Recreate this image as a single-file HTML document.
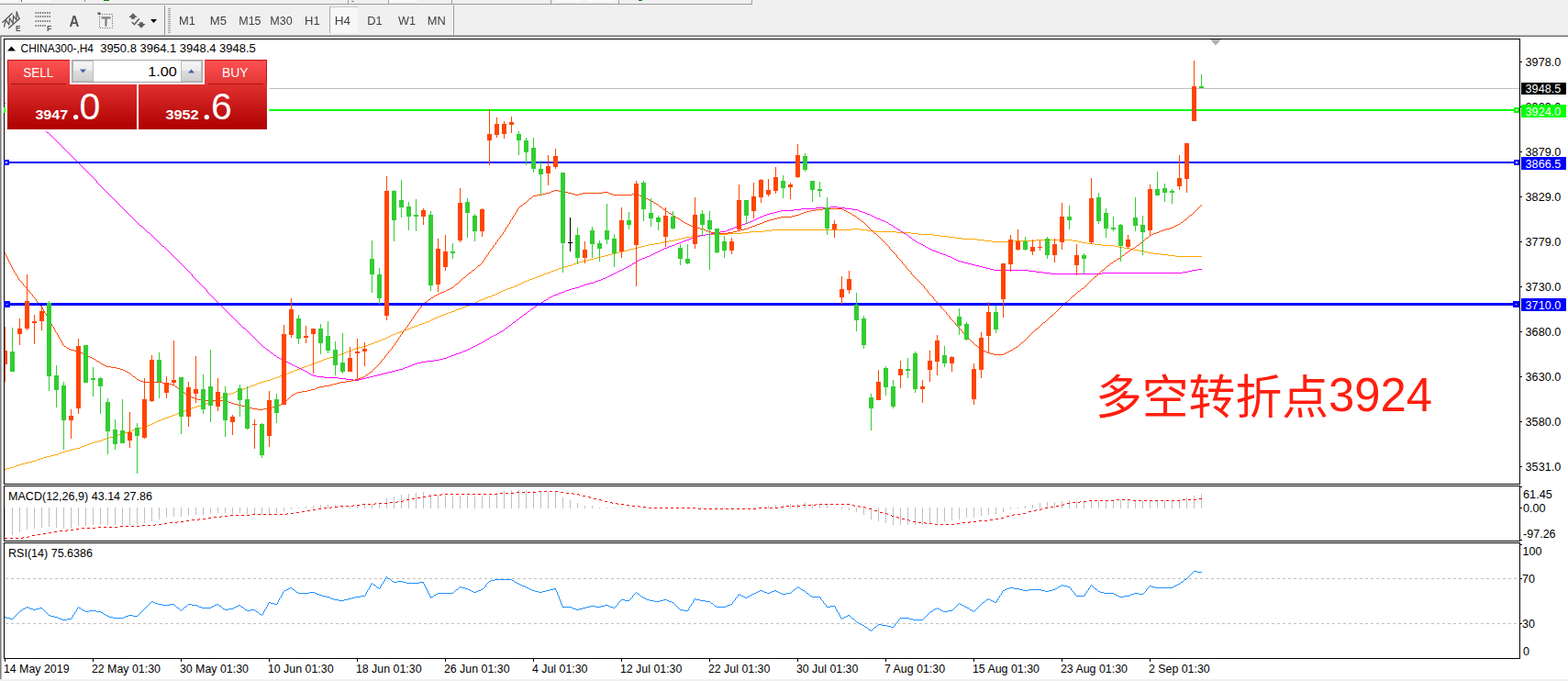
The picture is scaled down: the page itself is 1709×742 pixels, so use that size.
<!DOCTYPE html>
<html><head><meta charset="utf-8"><title>chart</title><style>html,body{margin:0;padding:0;background:#F0F0F0;overflow:hidden}svg text{white-space:pre}</style></head><body>
<svg width="1709" height="742" viewBox="0 0 1709 742" style="display:block;font-family:'Liberation Sans',sans-serif">
<defs>
<linearGradient id="gbtn" x1="0" y1="0" x2="0" y2="1"><stop offset="0" stop-color="#FF5252"/><stop offset="1" stop-color="#E23434"/></linearGradient>
<linearGradient id="gprice" gradientUnits="userSpaceOnUse" x1="0" y1="92" x2="0" y2="141"><stop offset="0" stop-color="#E03030"/><stop offset="1" stop-color="#AE0000"/></linearGradient>
<linearGradient id="gspin" x1="0" y1="0" x2="0" y2="1"><stop offset="0" stop-color="#F6F6F6"/><stop offset="0.48" stop-color="#EBEBEB"/><stop offset="0.5" stop-color="#DDDDDD"/><stop offset="1" stop-color="#CFCFCF"/></linearGradient>
<clipPath id="cmain"><rect x="5" y="43" width="1651" height="484"/></clipPath>
<clipPath id="cmacd"><rect x="5" y="530" width="1651" height="59"/></clipPath>
<pattern id="chk" width="2" height="2" patternUnits="userSpaceOnUse"><rect width="2" height="2" fill="#F0F0F0"/><rect width="1" height="1" fill="#FFFFFF"/><rect x="1" y="1" width="1" height="1" fill="#FFFFFF"/></pattern>
<filter id="idn" x="0" y="0" width="100%" height="100%" filterUnits="userSpaceOnUse" color-interpolation-filters="sRGB"><feOffset dx="0" dy="0"/></filter>
</defs>
<rect width="1709" height="742" fill="#F0F0F0"/>
<g shape-rendering="crispEdges">
<rect x="0" y="0" width="20" height="2" fill="#FAFAFA"/><rect x="22" y="0" width="33" height="2" fill="#FAFAFA"/><rect x="23" y="0" width="1" height="2" fill="#606060"/>
<rect x="113" y="0" width="6" height="1" fill="#008000"/>
<rect x="92" y="0" width="1" height="2" fill="#808080"/>
<rect x="0" y="4" width="820" height="1" fill="#A0A0A0"/><rect x="0" y="5" width="819" height="1" fill="#E8E8E8"/>
<rect x="379" y="0" width="1" height="4" fill="#A0A0A0"/>
<rect x="423" y="0" width="1" height="4" fill="#A0A0A0"/>
<rect x="492" y="0" width="1" height="4" fill="#A0A0A0"/>
<rect x="600" y="0" width="1" height="4" fill="#A0A0A0"/>
<rect x="674" y="0" width="1" height="4" fill="#A0A0A0"/>
<rect x="819" y="0" width="1" height="5" fill="#A0A0A0"/>
<rect x="424" y="0" width="31" height="2" fill="#FAFAFA"/><rect x="605" y="0" width="30" height="2" fill="#FAFAFA"/><rect x="639" y="0" width="31" height="2" fill="#FAFAFA"/>
<rect x="696" y="0" width="4" height="1" fill="#008000"/><rect x="383" y="1" width="3" height="1" fill="#808080"/>
<rect x="179" y="6" width="1" height="32" fill="#909090"/>
<rect x="183" y="9" width="3" height="1" fill="#A0A0A0"/>
<rect x="183" y="11" width="3" height="1" fill="#A0A0A0"/>
<rect x="183" y="13" width="3" height="1" fill="#A0A0A0"/>
<rect x="183" y="15" width="3" height="1" fill="#A0A0A0"/>
<rect x="183" y="17" width="3" height="1" fill="#A0A0A0"/>
<rect x="183" y="19" width="3" height="1" fill="#A0A0A0"/>
<rect x="183" y="21" width="3" height="1" fill="#A0A0A0"/>
<rect x="183" y="23" width="3" height="1" fill="#A0A0A0"/>
<rect x="183" y="25" width="3" height="1" fill="#A0A0A0"/>
<rect x="183" y="27" width="3" height="1" fill="#A0A0A0"/>
<rect x="183" y="29" width="3" height="1" fill="#A0A0A0"/>
<rect x="183" y="31" width="3" height="1" fill="#A0A0A0"/>
<rect x="183" y="33" width="3" height="1" fill="#A0A0A0"/>
<rect x="183" y="35" width="3" height="1" fill="#A0A0A0"/>
<rect x="494" y="6" width="1" height="32" fill="#A0A0A0"/>
<rect x="359" y="7" width="31" height="29" fill="url(#chk)"/><rect x="359" y="7" width="31" height="1" fill="#C8C8C8"/><rect x="359" y="7" width="1" height="29" fill="#A8A8A8"/>
</g>
<g filter="url(#idn)">
<g stroke="#555555" fill="none" stroke-linecap="round"><path d="M2.8 24.4L13.3 14.6M9.6 30.6L21.4 20.2" stroke-width="1.3"/><path d="M4.5 29.2L6.4 21.8L9.8 26.8L10.6 20L14 25.4L14.6 17.4L18 21.6L18 12.4L20.6 19.6" stroke-width="1.25"/></g>
<text x="16.9" y="33.9" font-size="9.5" font-weight="bold" fill="#555555" textLength="5.6" lengthAdjust="spacingAndGlyphs">E</text>
<path d="M38.5 14.0H55" stroke="#555555" stroke-width="1.4" stroke-dasharray="1.4 1.1" fill="none"/>
<path d="M38.5 18.0H55" stroke="#555555" stroke-width="1.4" stroke-dasharray="1.4 1.1" fill="none"/>
<path d="M38.5 23.0H55" stroke="#555555" stroke-width="1.4" stroke-dasharray="1.4 1.1" fill="none"/>
<path d="M38.5 28.0H50" stroke="#555555" stroke-width="1.4" stroke-dasharray="1.4 1.1" fill="none"/>
<text x="51" y="33.9" font-size="9.5" font-weight="bold" fill="#555555" textLength="5.4" lengthAdjust="spacingAndGlyphs">F</text>
<text x="75.6" y="28.8" font-size="16" font-weight="bold" fill="#555555" textLength="10.8" lengthAdjust="spacingAndGlyphs">A</text>
<rect x="108.5" y="15.5" width="14" height="15" fill="none" stroke="#555555" stroke-width="1" stroke-dasharray="1 1.6"/>
<path d="M110.5 19.4H120.5M115.5 19V28.7" stroke="#808080" stroke-width="2.2" fill="none"/>
<rect x="106.5" y="13.5" width="3" height="2.3" fill="#555555"/>
<path d="M145 14.3L149.6 19H147V20.8H143V19H140.4Z" fill="#606060"/><path d="M154 30.7L158.6 26H156V24.3H152V26H149.4Z" fill="#606060"/><path d="M143.6 24L146.5 26.6L151.8 20.2" stroke="#606060" stroke-width="1.5" fill="none"/>
<path d="M164 21H171L167.5 25Z" fill="#000"/>
<text x="195.0" y="27.3" font-size="12.4" fill="#404040" textLength="17.8" lengthAdjust="spacingAndGlyphs">M1</text>
<text x="228.8" y="27.3" font-size="12.4" fill="#404040" textLength="18.2" lengthAdjust="spacingAndGlyphs">M5</text>
<text x="260.3" y="27.3" font-size="12.4" fill="#404040" textLength="24.2" lengthAdjust="spacingAndGlyphs">M15</text>
<text x="294.3" y="27.3" font-size="12.4" fill="#404040" textLength="24.4" lengthAdjust="spacingAndGlyphs">M30</text>
<text x="332.0" y="27.3" font-size="12.4" fill="#404040" textLength="16.6" lengthAdjust="spacingAndGlyphs">H1</text>
<text x="364.8" y="27.3" font-size="12.4" fill="#404040" textLength="17.3" lengthAdjust="spacingAndGlyphs">H4</text>
<text x="400.2" y="27.3" font-size="12.4" fill="#404040" textLength="16.4" lengthAdjust="spacingAndGlyphs">D1</text>
<text x="434.0" y="27.3" font-size="12.4" fill="#404040" textLength="19.0" lengthAdjust="spacingAndGlyphs">W1</text>
<text x="465.8" y="27.3" font-size="12.4" fill="#404040" textLength="20.0" lengthAdjust="spacingAndGlyphs">MN</text>
</g>
<g shape-rendering="crispEdges">
<rect x="0" y="38" width="1709" height="1" fill="#B4B4B4"/>
<rect x="0" y="39" width="1709" height="1" fill="#6E6E6E"/>
<rect x="0" y="40" width="1709" height="700" fill="#FFFFFF"/>
<rect x="0" y="39" width="1" height="701" fill="#808080"/><rect x="1" y="40" width="1" height="700" fill="#B4B4B4"/>
<rect x="4" y="42" width="1653" height="1" fill="#000"/><rect x="4" y="42" width="1" height="676" fill="#000"/><rect x="1656" y="42" width="1" height="676" fill="#000"/>
<rect x="4" y="527" width="1653" height="1" fill="#000"/>
<rect x="4" y="529" width="1653" height="1" fill="#000"/>
<rect x="4" y="589" width="1653" height="1" fill="#000"/>
<rect x="2" y="528" width="1655" height="1" fill="#FFF"/><rect x="2" y="590" width="1655" height="1" fill="#FFF"/>
<rect x="4" y="591" width="1653" height="1" fill="#000"/>
<rect x="4" y="717" width="1653" height="1" fill="#000"/>
</g>
<g clip-path="url(#cmain)" shape-rendering="crispEdges">
<rect x="5" y="96" width="1651" height="1" fill="#C0C0C0"/>
<path d="M929 249h8v1h-8zM841 250h88v1h-88zM937 250h8v1h-8zM833 251h8v1h-8zM945 251h8v1h-8zM817 252h16v1h-16zM953 252h24v1h-24zM809 253h8v1h-8zM977 253h16v1h-16zM793 254h16v1h-16zM993 254h8v1h-8zM769 255h24v1h-24zM1001 255h16v1h-16zM761 256h8v1h-8zM1017 256h8v1h-8zM753 257h8v1h-8zM1025 257h8v1h-8zM747 258h6v1h-6zM1033 258h8v1h-8zM743 259h4v1h-4zM1041 259h8v1h-8zM739 260h4v1h-4zM1049 260h16v1h-16zM735 261h4v1h-4zM1065 261h8v1h-8zM1129 261h40v1h-40zM729 262h6v1h-6zM1073 262h8v1h-8zM1105 262h24v1h-24zM1169 262h6v1h-6zM723 263h6v1h-6zM1081 263h24v1h-24zM1175 263h4v1h-4zM719 264h4v1h-4zM1179 264h6v1h-6zM713 265h6v1h-6zM1185 265h8v1h-8zM707 266h6v1h-6zM1193 266h8v1h-8zM703 267h4v1h-4zM1201 267h14v1h-14zM699 268h4v1h-4zM1215 268h4v1h-4zM695 269h4v1h-4zM1219 269h6v1h-6zM691 270h4v1h-4zM1225 270h6v1h-6zM687 271h4v1h-4zM1231 271h4v1h-4zM683 272h4v1h-4zM1235 272h6v1h-6zM679 273h4v1h-4zM1241 273h6v1h-6zM675 274h4v1h-4zM1247 274h4v1h-4zM671 275h4v1h-4zM1251 275h6v1h-6zM667 276h4v1h-4zM1257 276h8v1h-8zM663 277h4v1h-4zM1265 277h8v1h-8zM659 278h4v1h-4zM1273 278h8v1h-8zM655 279h4v1h-4zM1281 279h29v1h-29zM651 280h4v1h-4zM647 281h4v1h-4zM643 282h4v1h-4zM639 283h4v1h-4zM635 284h4v1h-4zM631 285h4v1h-4zM628 286h3v1h-3zM625 287h3v1h-3zM623 288h2v1h-2zM619 289h4v1h-4zM615 290h4v1h-4zM612 291h3v1h-3zM609 292h3v1h-3zM607 293h2v1h-2zM604 294h3v1h-3zM601 295h3v1h-3zM599 296h2v1h-2zM596 297h3v1h-3zM593 298h3v1h-3zM591 299h2v1h-2zM588 300h3v1h-3zM585 301h3v1h-3zM583 302h2v1h-2zM580 303h3v1h-3zM577 304h3v1h-3zM575 305h2v1h-2zM572 306h3v1h-3zM570 307h2v1h-2zM568 308h2v1h-2zM566 309h2v1h-2zM564 310h2v1h-2zM561 311h3v1h-3zM559 312h2v1h-2zM556 313h3v1h-3zM553 314h3v1h-3zM551 315h2v1h-2zM548 316h3v1h-3zM546 317h2v1h-2zM544 318h2v1h-2zM542 319h2v1h-2zM540 320h2v1h-2zM537 321h3v1h-3zM535 322h2v1h-2zM532 323h3v1h-3zM529 324h3v1h-3zM527 325h2v1h-2zM524 326h3v1h-3zM522 327h2v1h-2zM520 328h2v1h-2zM518 329h2v1h-2zM516 330h2v1h-2zM513 331h3v1h-3zM511 332h2v1h-2zM508 333h3v1h-3zM505 334h3v1h-3zM503 335h2v1h-2zM500 336h3v1h-3zM497 337h3v1h-3zM495 338h2v1h-2zM492 339h3v1h-3zM489 340h3v1h-3zM487 341h2v1h-2zM484 342h3v1h-3zM481 343h3v1h-3zM479 344h2v1h-2zM476 345h3v1h-3zM474 346h2v1h-2zM472 347h2v1h-2zM470 348h2v1h-2zM468 349h2v1h-2zM465 350h3v1h-3zM463 351h2v1h-2zM460 352h3v1h-3zM457 353h3v1h-3zM455 354h2v1h-2zM452 355h3v1h-3zM449 356h3v1h-3zM447 357h2v1h-2zM444 358h3v1h-3zM441 359h3v1h-3zM439 360h2v1h-2zM436 361h3v1h-3zM433 362h3v1h-3zM431 363h2v1h-2zM428 364h3v1h-3zM426 365h2v1h-2zM424 366h2v1h-2zM422 367h2v1h-2zM420 368h2v1h-2zM417 369h3v1h-3zM415 370h2v1h-2zM412 371h3v1h-3zM409 372h3v1h-3zM407 373h2v1h-2zM404 374h3v1h-3zM401 375h3v1h-3zM399 376h2v1h-2zM395 377h4v1h-4zM391 378h4v1h-4zM388 379h3v1h-3zM385 380h3v1h-3zM383 381h2v1h-2zM380 382h3v1h-3zM377 383h3v1h-3zM375 384h2v1h-2zM372 385h3v1h-3zM369 386h3v1h-3zM367 387h2v1h-2zM363 388h4v1h-4zM359 389h4v1h-4zM356 390h3v1h-3zM353 391h3v1h-3zM351 392h2v1h-2zM348 393h3v1h-3zM345 394h3v1h-3zM343 395h2v1h-2zM340 396h3v1h-3zM337 397h3v1h-3zM335 398h2v1h-2zM332 399h3v1h-3zM329 400h3v1h-3zM327 401h2v1h-2zM324 402h3v1h-3zM321 403h3v1h-3zM319 404h2v1h-2zM316 405h3v1h-3zM313 406h3v1h-3zM311 407h2v1h-2zM308 408h3v1h-3zM305 409h3v1h-3zM303 410h2v1h-2zM300 411h3v1h-3zM297 412h3v1h-3zM295 413h2v1h-2zM291 414h4v1h-4zM287 415h4v1h-4zM284 416h3v1h-3zM281 417h3v1h-3zM279 418h2v1h-2zM276 419h3v1h-3zM273 420h3v1h-3zM271 421h2v1h-2zM268 422h3v1h-3zM265 423h3v1h-3zM263 424h2v1h-2zM260 425h3v1h-3zM257 426h3v1h-3zM255 427h2v1h-2zM252 428h3v1h-3zM249 429h3v1h-3zM247 430h2v1h-2zM244 431h3v1h-3zM242 432h2v1h-2zM240 433h2v1h-2zM238 434h2v1h-2zM236 435h2v1h-2zM233 436h3v1h-3zM231 437h2v1h-2zM228 438h3v1h-3zM225 439h3v1h-3zM223 440h2v1h-2zM219 441h4v1h-4zM215 442h4v1h-4zM212 443h3v1h-3zM209 444h3v1h-3zM207 445h2v1h-2zM204 446h3v1h-3zM201 447h3v1h-3zM199 448h2v1h-2zM196 449h3v1h-3zM193 450h3v1h-3zM191 451h2v1h-2zM188 452h3v1h-3zM185 453h3v1h-3zM183 454h2v1h-2zM180 455h3v1h-3zM177 456h3v1h-3zM175 457h2v1h-2zM172 458h3v1h-3zM170 459h2v1h-2zM168 460h2v1h-2zM166 461h2v1h-2zM164 462h2v1h-2zM161 463h3v1h-3zM159 464h2v1h-2zM155 465h4v1h-4zM151 466h4v1h-4zM148 467h3v1h-3zM145 468h3v1h-3zM143 469h2v1h-2zM139 470h4v1h-4zM135 471h4v1h-4zM132 472h3v1h-3zM129 473h3v1h-3zM127 474h2v1h-2zM123 475h4v1h-4zM119 476h4v1h-4zM116 477h3v1h-3zM113 478h3v1h-3zM111 479h2v1h-2zM107 480h4v1h-4zM103 481h4v1h-4zM100 482h3v1h-3zM97 483h3v1h-3zM95 484h2v1h-2zM92 485h3v1h-3zM89 486h3v1h-3zM87 487h2v1h-2zM83 488h4v1h-4zM79 489h4v1h-4zM75 490h4v1h-4zM71 491h4v1h-4zM68 492h3v1h-3zM65 493h3v1h-3zM63 494h2v1h-2zM59 495h4v1h-4zM55 496h4v1h-4zM51 497h4v1h-4zM47 498h4v1h-4zM44 499h3v1h-3zM41 500h3v1h-3zM39 501h2v1h-2zM35 502h4v1h-4zM31 503h4v1h-4zM27 504h4v1h-4zM23 505h4v1h-4zM20 506h3v1h-3zM17 507h3v1h-3zM15 508h2v1h-2zM11 509h4v1h-4zM7 510h4v1h-4zM5 511h2v1h-2z" fill="#FFA500"/>
<path d="M5 112h1v1h-1zM6 113h2v1h-2zM8 114h1v1h-1zM9 115h2v1h-2zM11 116h2v1h-2zM13 117h1v1h-1zM14 118h1v1h-1zM15 119h2v1h-2zM17 120h1v1h-1zM18 121h1v1h-1zM19 122h2v1h-2zM21 123h1v1h-1zM22 124h2v1h-2zM24 125h1v1h-1zM25 126h2v1h-2zM27 127h2v1h-2zM29 128h1v1h-1zM30 129h2v1h-2zM32 130h1v1h-1zM33 131h2v1h-2zM35 132h2v1h-2zM37 133h1v1h-1zM38 134h1v1h-1zM39 135h2v1h-2zM41 136h1v1h-1zM42 137h1v1h-1zM43 138h2v1h-2zM45 139h1v1h-1zM46 140h1v1h-1zM47 141h2v1h-2zM49 142h1v1h-1zM50 143h1v1h-1zM51 144h2v1h-2zM53 145h1v1h-1zM54 146h1v1h-1zM55 147h1v1h-1zM56 148h1v1h-1zM57 149h1v1h-1zM58 150h1v1h-1zM59 151h1v1h-1zM60 152h1v1h-1zM61 153h1v1h-1zM62 154h1v1h-1zM63 155h1v1h-1zM64 156h1v1h-1zM65 157h1v1h-1zM66 158h1v1h-1zM67 159h1v1h-1zM68 160h1v1h-1zM69 161h1v1h-1zM70 162h1v1h-1zM71 163h1v1h-1zM72 164h1v1h-1zM73 165h1v1h-1zM74 166h1v1h-1zM75 167h1v1h-1zM76 168h1v1h-1zM77 169h1v1h-1zM78 170h1v1h-1zM79 171h1v1h-1zM80 172h1v1h-1zM81 173h1v1h-1zM82 174h1v1h-1zM83 175h1v1h-1zM84 176h1v1h-1zM85 177h1v1h-1zM86 178h1v1h-1zM87 179h1v1h-1zM88 180h1v1h-1zM89 181h1v1h-1zM90 182h1v1h-1zM91 183h1v1h-1zM92 184h1v1h-1zM93 185h1v1h-1zM94 186h1v1h-1zM95 187h1v1h-1zM96 188h1v1h-1zM97 189h1v1h-1zM98 190h1v1h-1zM99 191h1v1h-1zM100 192h1v1h-1zM101 193h1v1h-1zM102 194h1v1h-1zM103 195h1v1h-1zM104 196h1v1h-1zM105 197h1v2h-1zM106 199h1v1h-1zM107 200h1v1h-1zM108 201h1v1h-1zM109 202h1v1h-1zM110 203h1v1h-1zM111 204h1v1h-1zM112 205h1v1h-1zM113 206h1v1h-1zM114 207h1v1h-1zM115 208h1v1h-1zM116 209h1v1h-1zM117 210h1v1h-1zM118 211h1v1h-1zM119 212h1v1h-1zM120 213h1v1h-1zM121 214h1v1h-1zM122 215h1v1h-1zM123 216h1v1h-1zM124 217h1v1h-1zM125 218h1v1h-1zM126 219h1v1h-1zM127 220h1v1h-1zM128 221h1v1h-1zM129 222h1v1h-1zM130 223h1v1h-1zM131 224h1v1h-1zM132 225h1v1h-1zM905 225h8v1h-8zM133 226h1v1h-1zM889 226h16v1h-16zM913 226h8v1h-8zM134 227h1v1h-1zM873 227h16v1h-16zM921 227h8v1h-8zM135 228h1v1h-1zM865 228h8v1h-8zM929 228h6v1h-6zM136 229h1v1h-1zM851 229h14v1h-14zM935 229h2v1h-2zM137 230h1v1h-1zM847 230h4v1h-4zM937 230h3v1h-3zM138 231h1v1h-1zM843 231h4v1h-4zM940 231h3v1h-3zM139 232h1v1h-1zM839 232h4v1h-4zM943 232h2v1h-2zM140 233h1v1h-1zM836 233h3v1h-3zM945 233h3v1h-3zM141 234h1v1h-1zM833 234h3v1h-3zM948 234h2v1h-2zM142 235h1v1h-1zM831 235h2v1h-2zM950 235h2v1h-2zM143 236h1v1h-1zM828 236h3v1h-3zM952 236h2v1h-2zM144 237h1v1h-1zM826 237h2v1h-2zM954 237h2v1h-2zM145 238h1v1h-1zM824 238h2v1h-2zM956 238h3v1h-3zM146 239h1v1h-1zM822 239h2v1h-2zM959 239h2v1h-2zM147 240h1v1h-1zM820 240h2v1h-2zM961 240h3v1h-3zM148 241h1v1h-1zM817 241h3v1h-3zM964 241h2v1h-2zM149 242h1v1h-1zM815 242h2v1h-2zM966 242h2v1h-2zM150 243h1v1h-1zM812 243h3v1h-3zM968 243h1v1h-1zM151 244h1v1h-1zM809 244h3v1h-3zM969 244h2v1h-2zM152 245h1v1h-1zM807 245h2v1h-2zM971 245h2v1h-2zM153 246h2v1h-2zM804 246h3v1h-3zM973 246h1v1h-1zM155 247h1v1h-1zM801 247h3v1h-3zM974 247h2v1h-2zM156 248h1v1h-1zM799 248h2v1h-2zM976 248h1v1h-1zM157 249h1v1h-1zM796 249h3v1h-3zM977 249h2v1h-2zM158 250h1v1h-1zM793 250h3v1h-3zM979 250h2v1h-2zM159 251h1v1h-1zM791 251h2v1h-2zM981 251h1v1h-1zM160 252h1v1h-1zM785 252h6v1h-6zM982 252h2v1h-2zM161 253h2v1h-2zM779 253h6v1h-6zM984 253h1v1h-1zM163 254h1v1h-1zM775 254h4v1h-4zM985 254h2v1h-2zM164 255h1v1h-1zM769 255h6v1h-6zM987 255h2v1h-2zM165 256h1v1h-1zM763 256h6v1h-6zM989 256h1v1h-1zM166 257h1v1h-1zM759 257h4v1h-4zM990 257h1v1h-1zM167 258h1v1h-1zM756 258h3v1h-3zM991 258h2v1h-2zM168 259h1v1h-1zM753 259h3v1h-3zM993 259h1v1h-1zM169 260h1v1h-1zM751 260h2v1h-2zM994 260h1v1h-1zM170 261h1v1h-1zM748 261h3v1h-3zM995 261h2v1h-2zM171 262h1v1h-1zM745 262h3v1h-3zM997 262h1v1h-1zM172 263h1v1h-1zM743 263h2v1h-2zM998 263h2v1h-2zM173 264h1v1h-1zM740 264h3v1h-3zM1000 264h2v1h-2zM174 265h1v1h-1zM737 265h3v1h-3zM1002 265h2v1h-2zM175 266h1v1h-1zM735 266h2v1h-2zM1004 266h2v1h-2zM176 267h1v1h-1zM732 267h3v1h-3zM1006 267h2v1h-2zM177 268h2v1h-2zM729 268h3v1h-3zM1008 268h1v1h-1zM179 269h1v1h-1zM727 269h2v1h-2zM1009 269h2v1h-2zM180 270h1v1h-1zM724 270h3v1h-3zM1011 270h2v1h-2zM181 271h1v1h-1zM722 271h2v1h-2zM1013 271h2v1h-2zM182 272h1v1h-1zM720 272h2v1h-2zM1015 272h2v1h-2zM183 273h1v1h-1zM718 273h2v1h-2zM1017 273h3v1h-3zM184 274h1v1h-1zM716 274h2v1h-2zM1020 274h3v1h-3zM185 275h1v1h-1zM714 275h2v1h-2zM1023 275h2v1h-2zM186 276h1v1h-1zM712 276h2v1h-2zM1025 276h3v1h-3zM187 277h1v1h-1zM710 277h2v1h-2zM1028 277h3v1h-3zM188 278h1v1h-1zM708 278h2v1h-2zM1031 278h2v1h-2zM189 279h1v1h-1zM705 279h3v1h-3zM1033 279h3v1h-3zM190 280h1v1h-1zM703 280h2v1h-2zM1036 280h2v1h-2zM191 281h1v1h-1zM700 281h3v1h-3zM1038 281h2v1h-2zM192 282h1v1h-1zM698 282h2v1h-2zM1040 282h2v1h-2zM193 283h1v1h-1zM696 283h2v1h-2zM1042 283h2v1h-2zM194 284h1v1h-1zM694 284h2v1h-2zM1044 284h3v1h-3zM195 285h1v1h-1zM693 285h1v1h-1zM1047 285h4v1h-4zM196 286h1v1h-1zM691 286h2v1h-2zM1051 286h4v1h-4zM197 287h1v1h-1zM689 287h2v1h-2zM1055 287h4v1h-4zM198 288h1v1h-1zM688 288h1v1h-1zM1059 288h4v1h-4zM199 289h1v1h-1zM686 289h2v1h-2zM1063 289h4v1h-4zM200 290h1v1h-1zM684 290h2v1h-2zM1067 290h4v1h-4zM201 291h1v1h-1zM682 291h2v1h-2zM1071 291h4v1h-4zM202 292h1v1h-1zM680 292h2v1h-2zM1075 292h4v1h-4zM203 293h1v1h-1zM678 293h2v1h-2zM1079 293h4v1h-4zM1305 293h5v1h-5zM204 294h1v1h-1zM676 294h2v1h-2zM1083 294h38v1h-38zM1299 294h6v1h-6zM205 295h1v1h-1zM674 295h2v1h-2zM1121 295h8v1h-8zM1295 295h4v1h-4zM206 296h1v1h-1zM672 296h2v1h-2zM1129 296h8v1h-8zM1289 296h6v1h-6zM207 297h1v1h-1zM670 297h2v1h-2zM1137 297h8v1h-8zM1201 297h88v1h-88zM208 298h1v1h-1zM668 298h2v1h-2zM1145 298h56v1h-56zM666 299h2v1h-2zM209 299h1v2h-1zM664 300h2v1h-2zM210 301h1v1h-1zM662 301h2v1h-2zM211 302h1v1h-1zM660 302h2v1h-2zM212 303h1v1h-1zM657 303h3v1h-3zM213 304h1v1h-1zM655 304h2v1h-2zM214 305h1v1h-1zM652 305h3v1h-3zM215 306h1v1h-1zM649 306h3v1h-3zM216 307h1v1h-1zM647 307h2v1h-2zM217 308h1v1h-1zM643 308h4v1h-4zM218 309h1v1h-1zM639 309h4v1h-4zM219 310h1v1h-1zM636 310h3v1h-3zM220 311h1v1h-1zM633 311h3v1h-3zM221 312h1v1h-1zM631 312h2v1h-2zM222 313h1v1h-1zM627 313h4v1h-4zM223 314h1v1h-1zM623 314h4v1h-4zM224 315h1v1h-1zM620 315h3v1h-3zM617 316h3v1h-3zM225 316h1v2h-1zM615 317h2v1h-2zM226 318h1v1h-1zM612 318h3v1h-3zM227 319h1v1h-1zM609 319h3v1h-3zM228 320h1v1h-1zM607 320h2v1h-2zM229 321h1v1h-1zM604 321h3v1h-3zM230 322h1v1h-1zM602 322h2v1h-2zM231 323h1v1h-1zM600 323h2v1h-2zM232 324h1v1h-1zM598 324h2v1h-2zM233 325h1v1h-1zM597 325h1v1h-1zM234 326h1v1h-1zM595 326h2v1h-2zM235 327h1v1h-1zM593 327h2v1h-2zM236 328h1v1h-1zM592 328h1v1h-1zM237 329h1v1h-1zM590 329h2v1h-2zM238 330h1v1h-1zM589 330h1v1h-1zM239 331h1v1h-1zM587 331h2v1h-2zM240 332h1v1h-1zM585 332h2v1h-2zM241 333h1v1h-1zM584 333h1v1h-1zM242 334h1v1h-1zM582 334h2v1h-2zM243 335h1v1h-1zM581 335h1v1h-1zM244 336h1v1h-1zM579 336h2v1h-2zM245 337h1v1h-1zM578 337h1v1h-1zM246 338h1v1h-1zM577 338h1v1h-1zM247 339h1v1h-1zM575 339h2v1h-2zM248 340h1v1h-1zM574 340h1v1h-1zM249 341h1v1h-1zM573 341h1v1h-1zM250 342h1v1h-1zM571 342h2v1h-2zM251 343h1v1h-1zM570 343h1v1h-1zM252 344h1v1h-1zM569 344h1v1h-1zM253 345h1v1h-1zM567 345h2v1h-2zM254 346h1v1h-1zM566 346h1v1h-1zM255 347h1v1h-1zM565 347h1v1h-1zM256 348h1v1h-1zM563 348h2v1h-2zM257 349h1v1h-1zM562 349h1v1h-1zM258 350h1v1h-1zM561 350h1v1h-1zM259 351h1v1h-1zM559 351h2v1h-2zM260 352h1v1h-1zM558 352h1v1h-1zM261 353h1v1h-1zM557 353h1v1h-1zM262 354h1v1h-1zM555 354h2v1h-2zM263 355h1v1h-1zM554 355h1v1h-1zM264 356h1v1h-1zM553 356h1v1h-1zM265 357h2v1h-2zM551 357h2v1h-2zM267 358h1v1h-1zM550 358h1v1h-1zM268 359h1v1h-1zM549 359h1v1h-1zM269 360h1v1h-1zM547 360h2v1h-2zM270 361h1v1h-1zM545 361h2v1h-2zM271 362h1v1h-1zM544 362h1v1h-1zM272 363h1v1h-1zM542 363h2v1h-2zM273 364h1v1h-1zM540 364h2v1h-2zM274 365h1v1h-1zM538 365h2v1h-2zM275 366h1v1h-1zM536 366h2v1h-2zM276 367h1v1h-1zM534 367h2v1h-2zM277 368h1v1h-1zM533 368h1v1h-1zM278 369h1v1h-1zM531 369h2v1h-2zM279 370h1v1h-1zM529 370h2v1h-2zM280 371h1v1h-1zM528 371h1v1h-1zM281 372h1v1h-1zM526 372h2v1h-2zM282 373h1v1h-1zM524 373h2v1h-2zM283 374h1v1h-1zM522 374h2v1h-2zM284 375h1v1h-1zM520 375h2v1h-2zM285 376h1v1h-1zM518 376h2v1h-2zM286 377h1v1h-1zM516 377h2v1h-2zM287 378h2v1h-2zM514 378h2v1h-2zM289 379h1v1h-1zM512 379h2v1h-2zM290 380h1v1h-1zM510 380h2v1h-2zM291 381h2v1h-2zM508 381h2v1h-2zM293 382h1v1h-1zM505 382h3v1h-3zM294 383h1v1h-1zM503 383h2v1h-2zM295 384h2v1h-2zM500 384h3v1h-3zM297 385h1v1h-1zM497 385h3v1h-3zM298 386h1v1h-1zM495 386h2v1h-2zM299 387h2v1h-2zM492 387h3v1h-3zM301 388h1v1h-1zM489 388h3v1h-3zM302 389h2v1h-2zM487 389h2v1h-2zM304 390h2v1h-2zM483 390h4v1h-4zM306 391h2v1h-2zM479 391h4v1h-4zM308 392h2v1h-2zM473 392h6v1h-6zM310 393h2v1h-2zM465 393h8v1h-8zM312 394h2v1h-2zM459 394h6v1h-6zM314 395h2v1h-2zM455 395h4v1h-4zM316 396h2v1h-2zM452 396h3v1h-3zM318 397h2v1h-2zM449 397h3v1h-3zM320 398h2v1h-2zM447 398h2v1h-2zM322 399h2v1h-2zM444 399h3v1h-3zM324 400h2v1h-2zM441 400h3v1h-3zM326 401h2v1h-2zM439 401h2v1h-2zM328 402h2v1h-2zM435 402h4v1h-4zM330 403h2v1h-2zM431 403h4v1h-4zM332 404h2v1h-2zM427 404h4v1h-4zM334 405h2v1h-2zM423 405h4v1h-4zM336 406h1v1h-1zM419 406h4v1h-4zM337 407h2v1h-2zM415 407h4v1h-4zM339 408h2v1h-2zM411 408h4v1h-4zM341 409h4v1h-4zM407 409h4v1h-4zM345 410h8v1h-8zM403 410h4v1h-4zM353 411h16v1h-16zM399 411h4v1h-4zM369 412h8v1h-8zM395 412h4v1h-4zM377 413h8v1h-8zM391 413h4v1h-4zM385 414h6v1h-6z" fill="#FF00FF"/>
<path d="M604 207h5v1h-5zM601 208h3v1h-3zM609 208h6v1h-6zM599 209h2v1h-2zM615 209h4v1h-4zM657 209h6v1h-6zM595 210h4v1h-4zM619 210h4v1h-4zM635 210h22v1h-22zM663 210h2v1h-2zM591 211h4v1h-4zM623 211h4v1h-4zM631 211h4v1h-4zM665 211h3v1h-3zM689 211h6v1h-6zM585 212h6v1h-6zM627 212h4v1h-4zM668 212h21v1h-21zM695 212h2v1h-2zM581 213h4v1h-4zM697 213h3v1h-3zM580 214h1v1h-1zM700 214h2v1h-2zM579 215h1v1h-1zM702 215h2v1h-2zM577 216h2v1h-2zM704 216h2v1h-2zM576 217h1v1h-1zM706 217h2v1h-2zM575 218h1v1h-1zM708 218h2v1h-2zM574 219h1v1h-1zM710 219h2v1h-2zM573 220h1v1h-1zM712 220h1v1h-1zM571 221h2v1h-2zM713 221h2v1h-2zM570 222h1v1h-1zM715 222h2v1h-2zM569 223h1v1h-1zM717 223h1v1h-1zM1309 223h1v1h-1zM567 224h2v1h-2zM718 224h1v1h-1zM1308 224h1v1h-1zM566 225h1v1h-1zM719 225h2v1h-2zM1307 225h1v1h-1zM565 226h1v1h-1zM721 226h1v1h-1zM1306 226h1v1h-1zM722 227h1v1h-1zM897 227h21v1h-21zM1305 227h1v1h-1zM564 227h1v2h-1zM723 228h2v1h-2zM889 228h8v1h-8zM918 228h2v1h-2zM1304 228h1v1h-1zM725 229h1v1h-1zM883 229h6v1h-6zM920 229h2v1h-2zM1303 229h1v1h-1zM563 229h1v2h-1zM726 230h2v1h-2zM879 230h4v1h-4zM922 230h2v1h-2zM1302 230h1v1h-1zM562 231h1v1h-1zM728 231h1v1h-1zM876 231h3v1h-3zM924 231h2v1h-2zM1301 231h1v1h-1zM729 232h2v1h-2zM873 232h3v1h-3zM926 232h2v1h-2zM1300 232h1v1h-1zM561 232h1v2h-1zM731 233h2v1h-2zM871 233h2v1h-2zM928 233h1v1h-1zM1299 233h1v1h-1zM560 234h1v1h-1zM733 234h1v1h-1zM867 234h4v1h-4zM929 234h2v1h-2zM1297 234h2v1h-2zM734 235h2v1h-2zM863 235h4v1h-4zM931 235h2v1h-2zM1296 235h1v1h-1zM559 235h1v2h-1zM736 236h1v1h-1zM851 236h12v1h-12zM933 236h1v1h-1zM1295 236h1v1h-1zM737 237h2v1h-2zM847 237h4v1h-4zM934 237h1v1h-1zM1294 237h1v1h-1zM558 237h1v2h-1zM739 238h2v1h-2zM843 238h4v1h-4zM935 238h2v1h-2zM1293 238h1v1h-1zM557 239h1v1h-1zM741 239h1v1h-1zM839 239h4v1h-4zM937 239h1v1h-1zM1291 239h2v1h-2zM742 240h2v1h-2zM836 240h3v1h-3zM938 240h1v1h-1zM1290 240h1v1h-1zM556 240h1v2h-1zM744 241h1v1h-1zM833 241h3v1h-3zM939 241h2v1h-2zM1289 241h1v1h-1zM745 242h2v1h-2zM831 242h2v1h-2zM941 242h1v1h-1zM1287 242h2v1h-2zM555 242h1v2h-1zM747 243h2v1h-2zM828 243h3v1h-3zM942 243h1v1h-1zM1286 243h1v1h-1zM554 244h1v1h-1zM749 244h2v1h-2zM825 244h3v1h-3zM943 244h1v1h-1zM1284 244h2v1h-2zM751 245h2v1h-2zM823 245h2v1h-2zM944 245h1v1h-1zM1282 245h2v1h-2zM553 245h1v2h-1zM753 246h3v1h-3zM820 246h3v1h-3zM945 246h1v1h-1zM1280 246h2v1h-2zM552 247h1v1h-1zM756 247h3v1h-3zM817 247h3v1h-3zM946 247h1v1h-1zM1278 247h2v1h-2zM759 248h4v1h-4zM815 248h2v1h-2zM947 248h1v1h-1zM1275 248h3v1h-3zM551 248h1v2h-1zM763 249h4v1h-4zM811 249h4v1h-4zM948 249h1v1h-1zM1271 249h4v1h-4zM767 250h2v1h-2zM807 250h4v1h-4zM949 250h1v1h-1zM1268 250h3v1h-3zM550 250h1v2h-1zM769 251h3v1h-3zM803 251h4v1h-4zM950 251h1v1h-1zM1265 251h3v1h-3zM549 252h1v1h-1zM772 252h3v1h-3zM799 252h4v1h-4zM951 252h1v1h-1zM1263 252h2v1h-2zM775 253h4v1h-4zM793 253h6v1h-6zM952 253h1v1h-1zM1260 253h3v1h-3zM548 253h1v2h-1zM779 254h14v1h-14zM953 254h2v1h-2zM1257 254h3v1h-3zM547 255h1v1h-1zM955 255h1v1h-1zM1255 255h2v1h-2zM546 256h1v1h-1zM956 256h1v1h-1zM1253 256h2v1h-2zM957 257h1v1h-1zM1252 257h1v1h-1zM545 257h1v2h-1zM958 258h1v1h-1zM1251 258h1v1h-1zM544 259h1v1h-1zM959 259h1v1h-1zM1249 259h2v1h-2zM543 260h1v1h-1zM960 260h1v1h-1zM1248 260h1v1h-1zM961 261h1v1h-1zM1247 261h1v1h-1zM542 261h1v2h-1zM962 262h1v1h-1zM1246 262h1v1h-1zM541 263h1v1h-1zM963 263h1v1h-1zM1245 263h1v1h-1zM964 264h1v1h-1zM1243 264h2v1h-2zM540 264h1v2h-1zM965 265h1v1h-1zM1242 265h1v1h-1zM539 266h1v1h-1zM966 266h1v1h-1zM1241 266h1v1h-1zM538 267h1v1h-1zM967 267h1v1h-1zM1239 267h2v1h-2zM968 268h1v1h-1zM1238 268h1v1h-1zM537 268h1v2h-1zM1237 269h1v1h-1zM969 269h1v2h-1zM536 270h1v1h-1zM1235 270h2v1h-2zM535 271h1v1h-1zM970 271h1v1h-1zM1233 271h2v1h-2zM971 272h1v1h-1zM1232 272h1v1h-1zM534 272h1v2h-1zM972 273h1v1h-1zM1230 273h2v1h-2zM533 274h1v1h-1zM973 274h1v1h-1zM1229 274h1v1h-1zM974 275h1v1h-1zM1227 275h2v1h-2zM5 275h1v2h-1zM532 275h1v2h-1zM975 276h1v1h-1zM1226 276h1v1h-1zM531 277h1v1h-1zM976 277h1v1h-1zM1225 277h1v1h-1zM6 277h1v2h-1zM1223 278h2v1h-2zM530 278h1v2h-1zM977 278h1v2h-1zM1222 279h1v1h-1zM7 279h1v2h-1zM529 280h1v1h-1zM978 280h1v1h-1zM1221 280h1v1h-1zM979 281h1v1h-1zM1219 281h2v1h-2zM8 281h1v2h-1zM528 281h1v2h-1zM980 282h1v1h-1zM1217 282h2v1h-2zM527 283h1v1h-1zM981 283h1v1h-1zM1216 283h1v1h-1zM9 283h1v2h-1zM982 284h1v1h-1zM1214 284h2v1h-2zM526 284h1v2h-1zM1213 285h1v1h-1zM10 285h1v2h-1zM983 285h1v2h-1zM525 286h1v1h-1zM1211 286h2v1h-2zM524 287h1v1h-1zM984 287h1v1h-1zM1210 287h1v1h-1zM11 287h1v2h-1zM523 288h1v1h-1zM985 288h1v1h-1zM1209 288h1v1h-1zM521 289h2v1h-2zM986 289h1v1h-1zM1207 289h2v1h-2zM12 289h1v2h-1zM520 290h1v1h-1zM1206 290h1v1h-1zM987 290h1v2h-1zM519 291h1v1h-1zM1205 291h1v1h-1zM13 291h1v2h-1zM518 292h1v1h-1zM988 292h1v1h-1zM1204 292h1v1h-1zM517 293h1v1h-1zM989 293h1v1h-1zM1203 293h1v1h-1zM14 293h1v2h-1zM515 294h2v1h-2zM990 294h1v1h-1zM1201 294h2v1h-2zM514 295h1v1h-1zM991 295h1v1h-1zM1200 295h1v1h-1zM15 295h1v2h-1zM513 296h1v1h-1zM992 296h1v1h-1zM1199 296h1v1h-1zM16 297h1v1h-1zM511 297h2v1h-2zM1198 297h1v1h-1zM993 297h1v2h-1zM510 298h1v1h-1zM1197 298h1v1h-1zM17 298h1v2h-1zM509 299h1v1h-1zM994 299h1v1h-1zM1196 299h1v1h-1zM18 300h1v1h-1zM508 300h1v1h-1zM995 300h1v1h-1zM1195 300h1v1h-1zM507 301h1v1h-1zM996 301h1v1h-1zM1193 301h2v1h-2zM19 301h1v2h-1zM505 302h2v1h-2zM997 302h1v1h-1zM1192 302h1v1h-1zM504 303h1v1h-1zM998 303h1v1h-1zM1191 303h1v1h-1zM20 303h1v2h-1zM503 304h1v1h-1zM999 304h1v1h-1zM1190 304h1v1h-1zM21 305h1v1h-1zM502 305h1v1h-1zM1000 305h1v1h-1zM1189 305h1v1h-1zM22 306h1v1h-1zM501 306h1v1h-1zM1001 306h1v1h-1zM1188 306h1v1h-1zM23 307h1v1h-1zM500 307h1v1h-1zM1002 307h1v1h-1zM1187 307h1v1h-1zM24 308h1v1h-1zM499 308h1v1h-1zM1003 308h1v1h-1zM1186 308h1v1h-1zM497 309h2v1h-2zM1004 309h1v1h-1zM1185 309h1v1h-1zM25 309h1v2h-1zM496 310h1v1h-1zM1005 310h1v1h-1zM1184 310h1v1h-1zM26 311h1v1h-1zM495 311h1v1h-1zM1006 311h1v1h-1zM1183 311h1v1h-1zM27 312h1v1h-1zM494 312h1v1h-1zM1182 312h1v1h-1zM1007 312h1v2h-1zM28 313h1v1h-1zM492 313h2v1h-2zM1181 313h1v1h-1zM29 314h1v1h-1zM490 314h2v1h-2zM1008 314h1v1h-1zM1179 314h2v1h-2zM30 315h1v1h-1zM488 315h2v1h-2zM1009 315h1v1h-1zM1178 315h1v1h-1zM486 316h2v1h-2zM1010 316h1v1h-1zM1177 316h1v1h-1zM31 316h1v2h-1zM484 317h2v1h-2zM1175 317h2v1h-2zM1011 317h1v2h-1zM32 318h1v1h-1zM481 318h3v1h-3zM1174 318h1v1h-1zM33 319h1v1h-1zM479 319h2v1h-2zM1012 319h1v1h-1zM1173 319h1v1h-1zM34 320h1v1h-1zM477 320h2v1h-2zM1013 320h1v1h-1zM1172 320h1v1h-1zM475 321h2v1h-2zM1014 321h1v1h-1zM1171 321h1v1h-1zM35 321h1v2h-1zM473 322h2v1h-2zM1015 322h1v1h-1zM1169 322h2v1h-2zM36 323h1v1h-1zM472 323h1v1h-1zM1016 323h1v1h-1zM1168 323h1v1h-1zM37 324h1v1h-1zM470 324h2v1h-2zM1167 324h1v1h-1zM1017 324h1v2h-1zM38 325h1v1h-1zM469 325h1v1h-1zM1166 325h1v1h-1zM467 326h2v1h-2zM1018 326h1v1h-1zM1165 326h1v1h-1zM39 326h1v2h-1zM466 327h1v1h-1zM1019 327h1v1h-1zM1164 327h1v1h-1zM40 328h1v1h-1zM465 328h1v1h-1zM1020 328h1v1h-1zM1163 328h1v1h-1zM41 329h1v1h-1zM463 329h2v1h-2zM1021 329h1v1h-1zM1161 329h2v1h-2zM42 330h1v1h-1zM462 330h1v1h-1zM1022 330h1v1h-1zM1160 330h1v1h-1zM461 331h1v1h-1zM1023 331h1v1h-1zM1159 331h1v1h-1zM43 331h1v2h-1zM460 332h1v1h-1zM1024 332h1v1h-1zM1158 332h1v1h-1zM44 333h1v1h-1zM1157 333h1v1h-1zM459 333h1v2h-1zM1025 333h1v2h-1zM45 334h1v1h-1zM1156 334h1v1h-1zM458 335h1v1h-1zM1026 335h1v1h-1zM1155 335h1v1h-1zM46 335h1v2h-1zM457 336h1v1h-1zM1027 336h1v1h-1zM1154 336h1v1h-1zM456 337h1v1h-1zM1028 337h1v1h-1zM1153 337h1v1h-1zM47 337h1v2h-1zM1029 338h1v1h-1zM1152 338h1v1h-1zM455 338h1v2h-1zM1030 339h1v1h-1zM1151 339h1v1h-1zM48 339h1v2h-1zM454 340h1v1h-1zM1150 340h1v1h-1zM1031 340h1v2h-1zM49 341h1v1h-1zM453 341h1v1h-1zM1149 341h1v1h-1zM1032 342h1v1h-1zM1148 342h1v1h-1zM50 342h1v2h-1zM452 342h1v2h-1zM1033 343h1v1h-1zM1147 343h1v1h-1zM451 344h1v1h-1zM1034 344h1v1h-1zM1145 344h2v1h-2zM51 344h1v2h-1zM1144 345h1v1h-1zM450 345h1v2h-1zM1035 345h1v2h-1zM1143 346h1v1h-1zM52 346h1v2h-1zM449 347h1v1h-1zM1036 347h1v1h-1zM1142 347h1v1h-1zM53 348h1v1h-1zM1037 348h1v1h-1zM1141 348h1v1h-1zM448 348h1v2h-1zM1038 349h1v1h-1zM1140 349h1v1h-1zM54 349h1v2h-1zM447 350h1v1h-1zM1039 350h1v1h-1zM1139 350h1v1h-1zM1040 351h1v1h-1zM1137 351h2v1h-2zM55 351h1v2h-1zM446 351h1v2h-1zM1136 352h1v1h-1zM1041 352h1v2h-1zM445 353h1v1h-1zM1135 353h1v1h-1zM56 353h1v2h-1zM1042 354h1v1h-1zM1134 354h1v1h-1zM444 354h1v2h-1zM57 355h1v1h-1zM1043 355h1v1h-1zM1133 355h1v1h-1zM443 356h1v1h-1zM1044 356h1v1h-1zM1132 356h1v1h-1zM58 356h1v2h-1zM442 357h1v1h-1zM1045 357h1v1h-1zM1131 357h1v1h-1zM1046 358h1v1h-1zM1129 358h2v1h-2zM59 358h1v2h-1zM441 358h1v2h-1zM1047 359h1v1h-1zM1128 359h1v1h-1zM440 360h1v1h-1zM1048 360h1v1h-1zM1127 360h1v1h-1zM60 360h1v2h-1zM439 361h1v1h-1zM1126 361h1v1h-1zM1049 361h1v2h-1zM61 362h1v1h-1zM1125 362h1v1h-1zM438 362h1v2h-1zM1050 363h1v1h-1zM1124 363h1v1h-1zM62 363h1v2h-1zM437 364h1v1h-1zM1051 364h1v1h-1zM1123 364h1v1h-1zM1052 365h1v1h-1zM1122 365h1v1h-1zM63 365h1v2h-1zM436 365h1v2h-1zM1053 366h1v1h-1zM1121 366h1v1h-1zM435 367h1v1h-1zM1054 367h1v1h-1zM1120 367h1v1h-1zM64 367h1v2h-1zM1055 368h1v1h-1zM1119 368h1v1h-1zM434 368h1v2h-1zM65 369h1v1h-1zM1056 369h1v1h-1zM1118 369h1v1h-1zM433 370h1v1h-1zM1057 370h1v1h-1zM1117 370h1v1h-1zM66 370h1v2h-1zM1058 371h1v1h-1zM1116 371h1v1h-1zM432 371h1v2h-1zM1059 372h1v1h-1zM1115 372h1v1h-1zM67 372h1v2h-1zM431 373h1v1h-1zM1060 373h1v1h-1zM1113 373h2v1h-2zM1061 374h1v1h-1zM1112 374h1v1h-1zM68 374h1v2h-1zM430 374h1v2h-1zM1062 375h1v1h-1zM1111 375h1v1h-1zM69 376h1v1h-1zM429 376h1v1h-1zM1063 376h2v1h-2zM1110 376h1v1h-1zM70 377h2v1h-2zM428 377h1v1h-1zM1065 377h1v1h-1zM1109 377h1v1h-1zM72 378h1v1h-1zM1066 378h1v1h-1zM1107 378h2v1h-2zM427 378h1v2h-1zM73 379h2v1h-2zM1067 379h2v1h-2zM1105 379h2v1h-2zM75 380h2v1h-2zM426 380h1v1h-1zM1069 380h1v1h-1zM1104 380h1v1h-1zM77 381h4v1h-4zM425 381h1v1h-1zM1070 381h2v1h-2zM1102 381h2v1h-2zM81 382h5v1h-5zM424 382h1v1h-1zM1072 382h2v1h-2zM1100 382h2v1h-2zM86 383h2v1h-2zM1074 383h2v1h-2zM1098 383h2v1h-2zM423 383h1v2h-1zM88 384h2v1h-2zM1076 384h3v1h-3zM1096 384h2v1h-2zM90 385h2v1h-2zM422 385h1v1h-1zM1079 385h4v1h-4zM1094 385h2v1h-2zM92 386h2v1h-2zM421 386h1v1h-1zM1083 386h11v1h-11zM94 387h2v1h-2zM420 387h1v1h-1zM96 388h2v1h-2zM419 388h1v2h-1zM98 389h2v1h-2zM100 390h2v1h-2zM418 390h1v1h-1zM102 391h2v1h-2zM417 391h1v1h-1zM104 392h1v1h-1zM416 392h1v1h-1zM105 393h2v1h-2zM415 393h1v2h-1zM107 394h2v1h-2zM109 395h1v1h-1zM414 395h1v1h-1zM110 396h2v1h-2zM413 396h1v1h-1zM112 397h2v1h-2zM412 397h1v1h-1zM114 398h2v1h-2zM411 398h1v1h-1zM116 399h5v1h-5zM410 399h1v1h-1zM121 400h6v1h-6zM409 400h1v1h-1zM127 401h4v1h-4zM408 401h1v1h-1zM131 402h3v1h-3zM407 402h1v1h-1zM134 403h2v1h-2zM406 403h1v1h-1zM136 404h2v1h-2zM405 404h1v1h-1zM138 405h2v1h-2zM403 405h2v1h-2zM140 406h2v1h-2zM402 406h1v1h-1zM142 407h1v1h-1zM401 407h1v1h-1zM143 408h1v1h-1zM399 408h2v1h-2zM144 409h1v1h-1zM398 409h1v1h-1zM145 410h2v1h-2zM396 410h2v1h-2zM147 411h1v1h-1zM393 411h3v1h-3zM148 412h1v1h-1zM391 412h2v1h-2zM149 413h2v1h-2zM387 413h4v1h-4zM151 414h2v1h-2zM383 414h4v1h-4zM153 415h3v1h-3zM377 415h6v1h-6zM156 416h21v1h-21zM371 416h6v1h-6zM177 417h6v1h-6zM367 417h4v1h-4zM183 418h4v1h-4zM363 418h4v1h-4zM187 419h3v1h-3zM359 419h4v1h-4zM190 420h1v1h-1zM353 420h6v1h-6zM191 421h2v1h-2zM348 421h5v1h-5zM193 422h1v1h-1zM345 422h3v1h-3zM194 423h1v1h-1zM343 423h2v1h-2zM195 424h2v1h-2zM339 424h4v1h-4zM197 425h1v1h-1zM335 425h4v1h-4zM198 426h1v1h-1zM329 426h6v1h-6zM199 427h2v1h-2zM324 427h5v1h-5zM201 428h1v1h-1zM322 428h2v1h-2zM202 429h1v1h-1zM320 429h2v1h-2zM203 430h2v1h-2zM318 430h2v1h-2zM205 431h2v1h-2zM317 431h1v1h-1zM207 432h2v1h-2zM316 432h1v1h-1zM209 433h3v1h-3zM315 433h1v1h-1zM212 434h3v1h-3zM314 434h1v1h-1zM215 435h4v1h-4zM313 435h1v1h-1zM219 436h28v1h-28zM312 436h1v1h-1zM247 437h2v1h-2zM311 437h1v1h-1zM249 438h3v1h-3zM310 438h1v1h-1zM252 439h3v1h-3zM308 439h2v1h-2zM255 440h4v1h-4zM306 440h2v1h-2zM259 441h4v1h-4zM304 441h2v1h-2zM263 442h4v1h-4zM302 442h2v1h-2zM267 443h4v1h-4zM297 443h5v1h-5zM271 444h4v1h-4zM291 444h6v1h-6zM275 445h6v1h-6zM287 445h4v1h-4zM281 446h6v1h-6z" fill="#FF4500"/>
<rect x="5" y="119" width="1651" height="2" fill="#00FF00"/>
<rect x="5" y="176" width="1651" height="2" fill="#0000FF"/>
<rect x="5" y="330" width="1651" height="3" fill="#0000FF"/>
<rect x="5" y="356" width="1" height="60" fill="#FF4500"/>
<rect x="3" y="382" width="5" height="15" fill="#FF4500"/>
<rect x="13" y="357" width="1" height="48" fill="#32CD32"/>
<rect x="11" y="383" width="5" height="22" fill="#32CD32"/>
<rect x="21" y="347" width="1" height="29" fill="#FF4500"/>
<rect x="19" y="358" width="5" height="6" fill="#FF4500"/>
<rect x="29" y="299" width="1" height="61" fill="#FF4500"/>
<rect x="27" y="328" width="5" height="30" fill="#FF4500"/>
<rect x="37" y="343" width="1" height="32" fill="#FF4500"/>
<rect x="35" y="350" width="5" height="2" fill="#FF4500"/>
<rect x="45" y="333" width="1" height="27" fill="#FF4500"/>
<rect x="43" y="339" width="5" height="11" fill="#FF4500"/>
<rect x="53" y="328" width="1" height="98" fill="#32CD32"/>
<rect x="51" y="330" width="5" height="80" fill="#32CD32"/>
<rect x="61" y="398" width="1" height="46" fill="#32CD32"/>
<rect x="59" y="409" width="5" height="16" fill="#32CD32"/>
<rect x="69" y="416" width="1" height="74" fill="#32CD32"/>
<rect x="67" y="420" width="5" height="38" fill="#32CD32"/>
<rect x="77" y="446" width="1" height="32" fill="#FF4500"/>
<rect x="75" y="453" width="5" height="5" fill="#FF4500"/>
<rect x="85" y="369" width="1" height="82" fill="#FF4500"/>
<rect x="83" y="377" width="5" height="68" fill="#FF4500"/>
<rect x="93" y="376" width="1" height="41" fill="#32CD32"/>
<rect x="91" y="376" width="5" height="41" fill="#32CD32"/>
<rect x="101" y="400" width="1" height="32" fill="#32CD32"/>
<rect x="99" y="412" width="5" height="2" fill="#32CD32"/>
<rect x="109" y="411" width="1" height="40" fill="#32CD32"/>
<rect x="107" y="412" width="5" height="9" fill="#32CD32"/>
<rect x="117" y="434" width="1" height="61" fill="#32CD32"/>
<rect x="115" y="438" width="5" height="32" fill="#32CD32"/>
<rect x="125" y="457" width="1" height="33" fill="#32CD32"/>
<rect x="123" y="468" width="5" height="16" fill="#32CD32"/>
<rect x="133" y="435" width="1" height="48" fill="#32CD32"/>
<rect x="131" y="469" width="5" height="14" fill="#32CD32"/>
<rect x="141" y="449" width="1" height="39" fill="#FF4500"/>
<rect x="139" y="471" width="5" height="9" fill="#FF4500"/>
<rect x="149" y="461" width="1" height="55" fill="#32CD32"/>
<rect x="147" y="466" width="5" height="9" fill="#32CD32"/>
<rect x="157" y="412" width="1" height="66" fill="#FF4500"/>
<rect x="155" y="435" width="5" height="42" fill="#FF4500"/>
<rect x="165" y="387" width="1" height="51" fill="#FF4500"/>
<rect x="163" y="392" width="5" height="45" fill="#FF4500"/>
<rect x="173" y="384" width="1" height="50" fill="#32CD32"/>
<rect x="171" y="392" width="5" height="24" fill="#32CD32"/>
<rect x="181" y="410" width="1" height="24" fill="#FF4500"/>
<rect x="179" y="417" width="5" height="11" fill="#FF4500"/>
<rect x="189" y="371" width="1" height="48" fill="#FF4500"/>
<rect x="187" y="414" width="5" height="3" fill="#FF4500"/>
<rect x="197" y="411" width="1" height="62" fill="#32CD32"/>
<rect x="195" y="411" width="5" height="43" fill="#32CD32"/>
<rect x="205" y="416" width="1" height="49" fill="#FF4500"/>
<rect x="203" y="422" width="5" height="32" fill="#FF4500"/>
<rect x="213" y="388" width="1" height="51" fill="#FF4500"/>
<rect x="211" y="424" width="5" height="5" fill="#FF4500"/>
<rect x="221" y="408" width="1" height="43" fill="#32CD32"/>
<rect x="219" y="424" width="5" height="22" fill="#32CD32"/>
<rect x="229" y="381" width="1" height="79" fill="#32CD32"/>
<rect x="227" y="421" width="5" height="21" fill="#32CD32"/>
<rect x="237" y="412" width="1" height="36" fill="#FF4500"/>
<rect x="235" y="427" width="5" height="16" fill="#FF4500"/>
<rect x="245" y="421" width="1" height="55" fill="#32CD32"/>
<rect x="243" y="428" width="5" height="30" fill="#32CD32"/>
<rect x="253" y="452" width="1" height="22" fill="#FF4500"/>
<rect x="251" y="454" width="5" height="6" fill="#FF4500"/>
<rect x="261" y="419" width="1" height="35" fill="#32CD32"/>
<rect x="259" y="423" width="5" height="13" fill="#32CD32"/>
<rect x="269" y="421" width="1" height="47" fill="#32CD32"/>
<rect x="267" y="435" width="5" height="32" fill="#32CD32"/>
<rect x="277" y="457" width="1" height="32" fill="#FF4500"/>
<rect x="275" y="462" width="5" height="1" fill="#FF4500"/>
<rect x="285" y="461" width="1" height="38" fill="#32CD32"/>
<rect x="283" y="462" width="5" height="34" fill="#32CD32"/>
<rect x="293" y="426" width="1" height="61" fill="#FF4500"/>
<rect x="291" y="436" width="5" height="39" fill="#FF4500"/>
<rect x="301" y="429" width="1" height="32" fill="#32CD32"/>
<rect x="299" y="435" width="5" height="15" fill="#32CD32"/>
<rect x="309" y="354" width="1" height="87" fill="#FF4500"/>
<rect x="307" y="364" width="5" height="77" fill="#FF4500"/>
<rect x="317" y="325" width="1" height="43" fill="#FF4500"/>
<rect x="315" y="337" width="5" height="28" fill="#FF4500"/>
<rect x="325" y="343" width="1" height="32" fill="#32CD32"/>
<rect x="323" y="347" width="5" height="22" fill="#32CD32"/>
<rect x="333" y="355" width="1" height="19" fill="#FF4500"/>
<rect x="331" y="366" width="5" height="2" fill="#FF4500"/>
<rect x="341" y="358" width="1" height="49" fill="#FF4500"/>
<rect x="339" y="358" width="5" height="6" fill="#FF4500"/>
<rect x="349" y="353" width="1" height="33" fill="#32CD32"/>
<rect x="347" y="358" width="5" height="16" fill="#32CD32"/>
<rect x="357" y="350" width="1" height="35" fill="#32CD32"/>
<rect x="355" y="366" width="5" height="16" fill="#32CD32"/>
<rect x="365" y="372" width="1" height="37" fill="#32CD32"/>
<rect x="363" y="381" width="5" height="17" fill="#32CD32"/>
<rect x="373" y="363" width="1" height="44" fill="#32CD32"/>
<rect x="371" y="395" width="5" height="10" fill="#32CD32"/>
<rect x="381" y="378" width="1" height="27" fill="#FF4500"/>
<rect x="379" y="390" width="5" height="15" fill="#FF4500"/>
<rect x="389" y="369" width="1" height="46" fill="#FF4500"/>
<rect x="387" y="383" width="5" height="2" fill="#FF4500"/>
<rect x="397" y="373" width="1" height="26" fill="#FF4500"/>
<rect x="395" y="380" width="5" height="3" fill="#FF4500"/>
<rect x="405" y="262" width="1" height="57" fill="#32CD32"/>
<rect x="403" y="282" width="5" height="17" fill="#32CD32"/>
<rect x="413" y="292" width="1" height="40" fill="#32CD32"/>
<rect x="411" y="299" width="5" height="26" fill="#32CD32"/>
<rect x="421" y="192" width="1" height="157" fill="#FF4500"/>
<rect x="419" y="208" width="5" height="136" fill="#FF4500"/>
<rect x="429" y="207" width="1" height="56" fill="#32CD32"/>
<rect x="427" y="208" width="5" height="32" fill="#32CD32"/>
<rect x="437" y="196" width="1" height="41" fill="#32CD32"/>
<rect x="435" y="218" width="5" height="8" fill="#32CD32"/>
<rect x="445" y="220" width="1" height="31" fill="#32CD32"/>
<rect x="443" y="225" width="5" height="11" fill="#32CD32"/>
<rect x="453" y="217" width="1" height="35" fill="#32CD32"/>
<rect x="451" y="234" width="5" height="2" fill="#32CD32"/>
<rect x="461" y="227" width="1" height="18" fill="#FF4500"/>
<rect x="459" y="229" width="5" height="7" fill="#FF4500"/>
<rect x="469" y="230" width="1" height="87" fill="#32CD32"/>
<rect x="467" y="234" width="5" height="77" fill="#32CD32"/>
<rect x="477" y="260" width="1" height="58" fill="#FF4500"/>
<rect x="475" y="271" width="5" height="39" fill="#FF4500"/>
<rect x="485" y="256" width="1" height="39" fill="#FF4500"/>
<rect x="483" y="274" width="5" height="17" fill="#FF4500"/>
<rect x="493" y="265" width="1" height="17" fill="#32CD32"/>
<rect x="491" y="274" width="5" height="2" fill="#32CD32"/>
<rect x="501" y="205" width="1" height="59" fill="#FF4500"/>
<rect x="499" y="221" width="5" height="41" fill="#FF4500"/>
<rect x="509" y="216" width="1" height="43" fill="#32CD32"/>
<rect x="507" y="220" width="5" height="12" fill="#32CD32"/>
<rect x="517" y="233" width="1" height="30" fill="#32CD32"/>
<rect x="515" y="235" width="5" height="17" fill="#32CD32"/>
<rect x="525" y="227" width="1" height="31" fill="#FF4500"/>
<rect x="523" y="228" width="5" height="24" fill="#FF4500"/>
<rect x="533" y="119" width="1" height="61" fill="#FF4500"/>
<rect x="531" y="146" width="5" height="7" fill="#FF4500"/>
<rect x="541" y="128" width="1" height="22" fill="#FF4500"/>
<rect x="539" y="135" width="5" height="12" fill="#FF4500"/>
<rect x="549" y="132" width="1" height="19" fill="#FF4500"/>
<rect x="547" y="135" width="5" height="11" fill="#FF4500"/>
<rect x="557" y="127" width="1" height="18" fill="#FF4500"/>
<rect x="555" y="133" width="5" height="3" fill="#FF4500"/>
<rect x="565" y="143" width="1" height="26" fill="#32CD32"/>
<rect x="563" y="146" width="5" height="7" fill="#32CD32"/>
<rect x="573" y="150" width="1" height="30" fill="#32CD32"/>
<rect x="571" y="153" width="5" height="13" fill="#32CD32"/>
<rect x="581" y="150" width="1" height="38" fill="#32CD32"/>
<rect x="579" y="161" width="5" height="23" fill="#32CD32"/>
<rect x="589" y="175" width="1" height="38" fill="#32CD32"/>
<rect x="587" y="184" width="5" height="6" fill="#32CD32"/>
<rect x="597" y="169" width="1" height="33" fill="#FF4500"/>
<rect x="595" y="181" width="5" height="8" fill="#FF4500"/>
<rect x="605" y="162" width="1" height="22" fill="#FF4500"/>
<rect x="603" y="170" width="5" height="12" fill="#FF4500"/>
<rect x="613" y="188" width="1" height="109" fill="#32CD32"/>
<rect x="611" y="188" width="5" height="77" fill="#32CD32"/>
<rect x="621" y="237" width="1" height="37" fill="#000000"/>
<rect x="619" y="264" width="5" height="1" fill="#000000"/>
<rect x="629" y="248" width="1" height="40" fill="#32CD32"/>
<rect x="627" y="256" width="5" height="25" fill="#32CD32"/>
<rect x="637" y="263" width="1" height="24" fill="#FF4500"/>
<rect x="635" y="272" width="5" height="9" fill="#FF4500"/>
<rect x="645" y="247" width="1" height="34" fill="#32CD32"/>
<rect x="643" y="251" width="5" height="15" fill="#32CD32"/>
<rect x="653" y="262" width="1" height="23" fill="#32CD32"/>
<rect x="651" y="265" width="5" height="6" fill="#32CD32"/>
<rect x="661" y="222" width="1" height="44" fill="#32CD32"/>
<rect x="659" y="251" width="5" height="10" fill="#32CD32"/>
<rect x="669" y="255" width="1" height="36" fill="#32CD32"/>
<rect x="667" y="260" width="5" height="16" fill="#32CD32"/>
<rect x="677" y="226" width="1" height="55" fill="#FF4500"/>
<rect x="675" y="240" width="5" height="34" fill="#FF4500"/>
<rect x="685" y="231" width="1" height="19" fill="#32CD32"/>
<rect x="683" y="240" width="5" height="5" fill="#32CD32"/>
<rect x="693" y="197" width="1" height="115" fill="#FF4500"/>
<rect x="691" y="200" width="5" height="67" fill="#FF4500"/>
<rect x="701" y="197" width="1" height="44" fill="#32CD32"/>
<rect x="699" y="199" width="5" height="29" fill="#32CD32"/>
<rect x="709" y="216" width="1" height="31" fill="#32CD32"/>
<rect x="707" y="232" width="5" height="6" fill="#32CD32"/>
<rect x="717" y="235" width="1" height="16" fill="#32CD32"/>
<rect x="715" y="237" width="5" height="5" fill="#32CD32"/>
<rect x="725" y="226" width="1" height="43" fill="#FF4500"/>
<rect x="723" y="235" width="5" height="23" fill="#FF4500"/>
<rect x="733" y="230" width="1" height="20" fill="#32CD32"/>
<rect x="731" y="236" width="5" height="13" fill="#32CD32"/>
<rect x="741" y="266" width="1" height="23" fill="#32CD32"/>
<rect x="739" y="270" width="5" height="12" fill="#32CD32"/>
<rect x="749" y="266" width="1" height="22" fill="#32CD32"/>
<rect x="747" y="282" width="5" height="5" fill="#32CD32"/>
<rect x="757" y="215" width="1" height="56" fill="#FF4500"/>
<rect x="755" y="234" width="5" height="32" fill="#FF4500"/>
<rect x="765" y="229" width="1" height="28" fill="#32CD32"/>
<rect x="763" y="233" width="5" height="12" fill="#32CD32"/>
<rect x="773" y="230" width="1" height="64" fill="#32CD32"/>
<rect x="771" y="240" width="5" height="10" fill="#32CD32"/>
<rect x="781" y="249" width="1" height="27" fill="#32CD32"/>
<rect x="779" y="249" width="5" height="26" fill="#32CD32"/>
<rect x="789" y="257" width="1" height="24" fill="#32CD32"/>
<rect x="787" y="263" width="5" height="10" fill="#32CD32"/>
<rect x="797" y="259" width="1" height="18" fill="#FF4500"/>
<rect x="795" y="263" width="5" height="10" fill="#FF4500"/>
<rect x="805" y="201" width="1" height="51" fill="#FF4500"/>
<rect x="803" y="218" width="5" height="32" fill="#FF4500"/>
<rect x="813" y="218" width="1" height="26" fill="#32CD32"/>
<rect x="811" y="218" width="5" height="17" fill="#32CD32"/>
<rect x="821" y="199" width="1" height="39" fill="#FF4500"/>
<rect x="819" y="214" width="5" height="16" fill="#FF4500"/>
<rect x="829" y="195" width="1" height="26" fill="#FF4500"/>
<rect x="827" y="196" width="5" height="19" fill="#FF4500"/>
<rect x="837" y="195" width="1" height="19" fill="#FF4500"/>
<rect x="835" y="207" width="5" height="5" fill="#FF4500"/>
<rect x="845" y="182" width="1" height="29" fill="#FF4500"/>
<rect x="843" y="193" width="5" height="15" fill="#FF4500"/>
<rect x="853" y="191" width="1" height="25" fill="#32CD32"/>
<rect x="851" y="197" width="5" height="8" fill="#32CD32"/>
<rect x="861" y="199" width="1" height="18" fill="#FF4500"/>
<rect x="859" y="201" width="5" height="3" fill="#FF4500"/>
<rect x="869" y="157" width="1" height="37" fill="#FF4500"/>
<rect x="867" y="169" width="5" height="24" fill="#FF4500"/>
<rect x="877" y="167" width="1" height="20" fill="#32CD32"/>
<rect x="875" y="170" width="5" height="15" fill="#32CD32"/>
<rect x="885" y="197" width="1" height="23" fill="#32CD32"/>
<rect x="883" y="197" width="5" height="10" fill="#32CD32"/>
<rect x="893" y="198" width="1" height="17" fill="#32CD32"/>
<rect x="891" y="206" width="5" height="2" fill="#32CD32"/>
<rect x="901" y="215" width="1" height="41" fill="#32CD32"/>
<rect x="899" y="226" width="5" height="23" fill="#32CD32"/>
<rect x="909" y="240" width="1" height="19" fill="#FF4500"/>
<rect x="907" y="244" width="5" height="6" fill="#FF4500"/>
<rect x="917" y="301" width="1" height="31" fill="#FF4500"/>
<rect x="915" y="315" width="5" height="9" fill="#FF4500"/>
<rect x="925" y="295" width="1" height="25" fill="#FF4500"/>
<rect x="923" y="304" width="5" height="12" fill="#FF4500"/>
<rect x="933" y="319" width="1" height="42" fill="#32CD32"/>
<rect x="931" y="332" width="5" height="17" fill="#32CD32"/>
<rect x="941" y="344" width="1" height="36" fill="#32CD32"/>
<rect x="939" y="347" width="5" height="29" fill="#32CD32"/>
<rect x="949" y="429" width="1" height="40" fill="#32CD32"/>
<rect x="947" y="433" width="5" height="12" fill="#32CD32"/>
<rect x="957" y="403" width="1" height="33" fill="#FF4500"/>
<rect x="955" y="416" width="5" height="20" fill="#FF4500"/>
<rect x="965" y="399" width="1" height="32" fill="#32CD32"/>
<rect x="963" y="401" width="5" height="21" fill="#32CD32"/>
<rect x="973" y="414" width="1" height="31" fill="#32CD32"/>
<rect x="971" y="421" width="5" height="22" fill="#32CD32"/>
<rect x="981" y="393" width="1" height="30" fill="#FF4500"/>
<rect x="979" y="402" width="5" height="7" fill="#FF4500"/>
<rect x="989" y="390" width="1" height="22" fill="#32CD32"/>
<rect x="987" y="402" width="5" height="2" fill="#32CD32"/>
<rect x="997" y="383" width="1" height="45" fill="#32CD32"/>
<rect x="995" y="385" width="5" height="39" fill="#32CD32"/>
<rect x="1005" y="414" width="1" height="25" fill="#FF4500"/>
<rect x="1003" y="421" width="5" height="3" fill="#FF4500"/>
<rect x="1013" y="382" width="1" height="34" fill="#FF4500"/>
<rect x="1011" y="393" width="5" height="10" fill="#FF4500"/>
<rect x="1021" y="365" width="1" height="44" fill="#FF4500"/>
<rect x="1019" y="371" width="5" height="23" fill="#FF4500"/>
<rect x="1029" y="377" width="1" height="23" fill="#32CD32"/>
<rect x="1027" y="387" width="5" height="9" fill="#32CD32"/>
<rect x="1037" y="388" width="1" height="17" fill="#FF4500"/>
<rect x="1035" y="389" width="5" height="7" fill="#FF4500"/>
<rect x="1045" y="336" width="1" height="29" fill="#32CD32"/>
<rect x="1043" y="345" width="5" height="10" fill="#32CD32"/>
<rect x="1053" y="351" width="1" height="20" fill="#32CD32"/>
<rect x="1051" y="353" width="5" height="17" fill="#32CD32"/>
<rect x="1061" y="396" width="1" height="45" fill="#FF4500"/>
<rect x="1059" y="402" width="5" height="33" fill="#FF4500"/>
<rect x="1069" y="362" width="1" height="50" fill="#FF4500"/>
<rect x="1067" y="368" width="5" height="35" fill="#FF4500"/>
<rect x="1077" y="329" width="1" height="55" fill="#FF4500"/>
<rect x="1075" y="340" width="5" height="26" fill="#FF4500"/>
<rect x="1085" y="333" width="1" height="30" fill="#32CD32"/>
<rect x="1083" y="340" width="5" height="19" fill="#32CD32"/>
<rect x="1093" y="287" width="1" height="59" fill="#FF4500"/>
<rect x="1091" y="287" width="5" height="39" fill="#FF4500"/>
<rect x="1101" y="256" width="1" height="40" fill="#FF4500"/>
<rect x="1099" y="261" width="5" height="27" fill="#FF4500"/>
<rect x="1109" y="250" width="1" height="23" fill="#FF4500"/>
<rect x="1107" y="263" width="5" height="9" fill="#FF4500"/>
<rect x="1117" y="258" width="1" height="15" fill="#32CD32"/>
<rect x="1115" y="263" width="5" height="9" fill="#32CD32"/>
<rect x="1125" y="261" width="1" height="17" fill="#FF4500"/>
<rect x="1123" y="269" width="5" height="5" fill="#FF4500"/>
<rect x="1133" y="262" width="1" height="11" fill="#FF4500"/>
<rect x="1131" y="269" width="5" height="1" fill="#FF4500"/>
<rect x="1141" y="258" width="1" height="24" fill="#32CD32"/>
<rect x="1139" y="260" width="5" height="18" fill="#32CD32"/>
<rect x="1149" y="260" width="1" height="26" fill="#FF4500"/>
<rect x="1147" y="266" width="5" height="12" fill="#FF4500"/>
<rect x="1157" y="221" width="1" height="51" fill="#FF4500"/>
<rect x="1155" y="236" width="5" height="28" fill="#FF4500"/>
<rect x="1165" y="224" width="1" height="26" fill="#32CD32"/>
<rect x="1163" y="236" width="5" height="4" fill="#32CD32"/>
<rect x="1173" y="266" width="1" height="34" fill="#FF4500"/>
<rect x="1171" y="278" width="5" height="11" fill="#FF4500"/>
<rect x="1181" y="276" width="1" height="22" fill="#32CD32"/>
<rect x="1179" y="278" width="5" height="4" fill="#32CD32"/>
<rect x="1189" y="194" width="1" height="72" fill="#FF4500"/>
<rect x="1187" y="216" width="5" height="48" fill="#FF4500"/>
<rect x="1197" y="210" width="1" height="34" fill="#32CD32"/>
<rect x="1195" y="215" width="5" height="26" fill="#32CD32"/>
<rect x="1205" y="227" width="1" height="32" fill="#32CD32"/>
<rect x="1203" y="232" width="5" height="17" fill="#32CD32"/>
<rect x="1213" y="236" width="1" height="16" fill="#32CD32"/>
<rect x="1211" y="248" width="5" height="2" fill="#32CD32"/>
<rect x="1221" y="244" width="1" height="41" fill="#32CD32"/>
<rect x="1219" y="245" width="5" height="23" fill="#32CD32"/>
<rect x="1229" y="256" width="1" height="15" fill="#FF4500"/>
<rect x="1227" y="261" width="5" height="8" fill="#FF4500"/>
<rect x="1237" y="215" width="1" height="37" fill="#32CD32"/>
<rect x="1235" y="237" width="5" height="9" fill="#32CD32"/>
<rect x="1245" y="235" width="1" height="43" fill="#32CD32"/>
<rect x="1243" y="245" width="5" height="8" fill="#32CD32"/>
<rect x="1253" y="201" width="1" height="55" fill="#FF4500"/>
<rect x="1251" y="206" width="5" height="45" fill="#FF4500"/>
<rect x="1261" y="187" width="1" height="26" fill="#32CD32"/>
<rect x="1259" y="206" width="5" height="7" fill="#32CD32"/>
<rect x="1269" y="200" width="1" height="20" fill="#32CD32"/>
<rect x="1267" y="205" width="5" height="5" fill="#32CD32"/>
<rect x="1277" y="206" width="1" height="16" fill="#32CD32"/>
<rect x="1275" y="208" width="5" height="2" fill="#32CD32"/>
<rect x="1285" y="169" width="1" height="38" fill="#FF4500"/>
<rect x="1283" y="194" width="5" height="9" fill="#FF4500"/>
<rect x="1293" y="156" width="1" height="54" fill="#FF4500"/>
<rect x="1291" y="156" width="5" height="39" fill="#FF4500"/>
<rect x="1301" y="66" width="1" height="66" fill="#FF4500"/>
<rect x="1299" y="94" width="5" height="38" fill="#FF4500"/>
<rect x="1309" y="81" width="1" height="15" fill="#32CD32"/>
<rect x="1307" y="94" width="5" height="2" fill="#32CD32"/>
</g>
<g shape-rendering="crispEdges">
<rect x="4" y="174" width="6" height="6" fill="#0000FF"/><rect x="6" y="176" width="2" height="2" fill="#FFF"/>
<rect x="4" y="328" width="7" height="7" fill="#0000FF"/><rect x="7" y="331" width="1" height="1" fill="#FFF"/>
<rect x="4" y="117" width="2" height="6" fill="#00FF00"/>
<rect x="1650" y="117" width="6" height="6" fill="#00FF00"/><rect x="1652" y="119" width="2" height="2" fill="#FFF"/>
<rect x="1650" y="174" width="6" height="6" fill="#0000FF"/><rect x="1652" y="176" width="2" height="2" fill="#FFF"/>
<rect x="1649" y="328" width="7" height="7" fill="#0000FF"/><rect x="1652" y="331" width="1" height="1" fill="#FFF"/>
</g>
<path d="M1319 43H1331L1325 49.5Z" fill="#B0B0B0"/>
<g shape-rendering="crispEdges">
<rect x="1657" y="67" width="2" height="1" fill="#000"/>
<rect x="1657" y="116" width="2" height="1" fill="#000"/>
<rect x="1657" y="165" width="2" height="1" fill="#000"/>
<rect x="1657" y="214" width="2" height="1" fill="#000"/>
<rect x="1657" y="263" width="2" height="1" fill="#000"/>
<rect x="1657" y="312" width="2" height="1" fill="#000"/>
<rect x="1657" y="361" width="2" height="1" fill="#000"/>
<rect x="1657" y="410" width="2" height="1" fill="#000"/>
<rect x="1657" y="459" width="2" height="1" fill="#000"/>
<rect x="1657" y="508" width="2" height="1" fill="#000"/>
</g>
<text x="1662.6" y="72" font-size="12.4" fill="#000" textLength="38.6" lengthAdjust="spacingAndGlyphs">3978.0</text>
<text x="1662.6" y="121" font-size="12.4" fill="#000" textLength="38.6" lengthAdjust="spacingAndGlyphs">3929.0</text>
<text x="1662.6" y="170" font-size="12.4" fill="#000" textLength="38.6" lengthAdjust="spacingAndGlyphs">3879.0</text>
<text x="1662.6" y="219" font-size="12.4" fill="#000" textLength="38.6" lengthAdjust="spacingAndGlyphs">3829.0</text>
<text x="1662.6" y="268" font-size="12.4" fill="#000" textLength="38.6" lengthAdjust="spacingAndGlyphs">3779.0</text>
<text x="1662.6" y="317" font-size="12.4" fill="#000" textLength="38.6" lengthAdjust="spacingAndGlyphs">3730.0</text>
<text x="1662.6" y="366" font-size="12.4" fill="#000" textLength="38.6" lengthAdjust="spacingAndGlyphs">3680.0</text>
<text x="1662.6" y="415" font-size="12.4" fill="#000" textLength="38.6" lengthAdjust="spacingAndGlyphs">3630.0</text>
<text x="1662.6" y="464" font-size="12.4" fill="#000" textLength="38.6" lengthAdjust="spacingAndGlyphs">3580.0</text>
<text x="1662.6" y="513" font-size="12.4" fill="#000" textLength="38.6" lengthAdjust="spacingAndGlyphs">3531.0</text>
<g shape-rendering="crispEdges">
<rect x="1658" y="90" width="49" height="13" fill="#000"/>
<rect x="1658" y="114" width="49" height="14" fill="#00FF00"/>
<rect x="1658" y="171" width="49" height="14" fill="#0000FF"/>
<rect x="1658" y="325" width="49" height="14" fill="#0000FF"/>
</g>
<text x="1662.6" y="101" font-size="12.4" fill="#FFF" textLength="38.6" lengthAdjust="spacingAndGlyphs">3948.5</text>
<text x="1662.6" y="125.6" font-size="12.4" fill="#FFF" textLength="38.6" lengthAdjust="spacingAndGlyphs">3924.0</text>
<text x="1662.6" y="182.6" font-size="12.4" fill="#FFF" textLength="38.6" lengthAdjust="spacingAndGlyphs">3866.5</text>
<text x="1662.6" y="336.6" font-size="12.4" fill="#FFF" textLength="38.6" lengthAdjust="spacingAndGlyphs">3710.0</text>
<path d="M8 55.5H17L12.5 50.5Z" fill="#000"/>
<text x="22.6" y="56.7" font-size="12.4" fill="#000" textLength="79.4" lengthAdjust="spacingAndGlyphs">CHINA300-,H4</text>
<text x="109.2" y="56.7" font-size="12.4" fill="#000" textLength="169.6" lengthAdjust="spacingAndGlyphs">3950.8 3964.1 3948.4 3948.5</text>
<g shape-rendering="crispEdges">
<rect x="6" y="63" width="287" height="80" fill="#FFFFFF"/>
<rect x="8" y="65" width="68" height="28" fill="url(#gbtn)"/><rect x="8" y="65" width="68" height="1" fill="#C81414"/><rect x="8" y="65" width="1" height="28" fill="#C81414"/>
<rect x="223" y="65" width="68" height="28" fill="url(#gbtn)"/><rect x="223" y="65" width="68" height="1" fill="#C81414"/><rect x="290" y="65" width="1" height="28" fill="#C81414"/>
<rect x="8" y="92" width="141" height="49" fill="url(#gprice)"/>
<rect x="151" y="92" width="140" height="49" fill="url(#gprice)"/>
<rect x="12" y="91" width="60" height="1" fill="#B01010"/><rect x="227" y="91" width="60" height="1" fill="#B01010"/>
<rect x="78" y="65" width="142" height="24" fill="#FFFFFF" stroke="#A6A6AE" stroke-width="1" transform="translate(.5,.5)"/>
<rect x="79" y="66" width="22" height="22" fill="url(#gspin)" stroke="#BCBCBC" stroke-width="1" transform="translate(.5,.5)"/>
<rect x="197" y="66" width="22" height="22" fill="url(#gspin)" stroke="#BCBCBC" stroke-width="1" transform="translate(.5,.5)"/>
</g>
<path d="M87 75.5H94L90.5 79.5Z" fill="#4A5FB0"/><path d="M205 79.5H212L208.5 75.5Z" fill="#4A5FB0"/>
<text x="25.2" y="84" font-size="14.8" fill="#FFF" textLength="33" lengthAdjust="spacingAndGlyphs">SELL</text>
<text x="242" y="84" font-size="14.8" fill="#FFF" textLength="28.5" lengthAdjust="spacingAndGlyphs">BUY</text>
<text x="161.3" y="83" font-size="15" fill="#000" textLength="31.5" lengthAdjust="spacingAndGlyphs">1.00</text>
<text x="38.4" y="130.2" font-size="14.8" fill="#FFF" textLength="35.8" lengthAdjust="spacingAndGlyphs" font-weight="bold">3947</text>
<text x="180.4" y="130.2" font-size="14.8" fill="#FFF" textLength="36.2" lengthAdjust="spacingAndGlyphs" font-weight="bold">3952</text>
<circle cx="82.6" cy="127.6" r="2.65" fill="#FFF"/><circle cx="225.3" cy="127.6" r="2.65" fill="#FFF"/>
<text x="86.4" y="130.4" font-size="41" fill="#FFF">0</text><text x="230.1" y="130.4" font-size="41" fill="#FFF">6</text>
<text x="1194" y="450.8" font-size="51" fill="#FF1E0F" textLength="367" lengthAdjust="spacingAndGlyphs" style="font-family:'Liberation Sans','Noto Sans CJK SC',sans-serif">多空转折点<tspan dy="-3">3924</tspan></text>
<g clip-path="url(#cmacd)" shape-rendering="crispEdges">
<rect x="5" y="553" width="1" height="31" fill="#C0C0C0"/>
<rect x="13" y="553" width="1" height="30" fill="#C0C0C0"/>
<rect x="21" y="553" width="1" height="27" fill="#C0C0C0"/>
<rect x="29" y="553" width="1" height="24" fill="#C0C0C0"/>
<rect x="37" y="553" width="1" height="23" fill="#C0C0C0"/>
<rect x="45" y="553" width="1" height="22" fill="#C0C0C0"/>
<rect x="53" y="553" width="1" height="21" fill="#C0C0C0"/>
<rect x="61" y="553" width="1" height="22" fill="#C0C0C0"/>
<rect x="69" y="553" width="1" height="23" fill="#C0C0C0"/>
<rect x="77" y="553" width="1" height="23" fill="#C0C0C0"/>
<rect x="85" y="553" width="1" height="20" fill="#C0C0C0"/>
<rect x="93" y="553" width="1" height="20" fill="#C0C0C0"/>
<rect x="101" y="553" width="1" height="19" fill="#C0C0C0"/>
<rect x="109" y="553" width="1" height="19" fill="#C0C0C0"/>
<rect x="117" y="553" width="1" height="19" fill="#C0C0C0"/>
<rect x="125" y="553" width="1" height="19" fill="#C0C0C0"/>
<rect x="133" y="553" width="1" height="19" fill="#C0C0C0"/>
<rect x="141" y="553" width="1" height="19" fill="#C0C0C0"/>
<rect x="149" y="553" width="1" height="19" fill="#C0C0C0"/>
<rect x="157" y="553" width="1" height="17" fill="#C0C0C0"/>
<rect x="165" y="553" width="1" height="15" fill="#C0C0C0"/>
<rect x="173" y="553" width="1" height="13" fill="#C0C0C0"/>
<rect x="181" y="553" width="1" height="11" fill="#C0C0C0"/>
<rect x="189" y="553" width="1" height="10" fill="#C0C0C0"/>
<rect x="197" y="553" width="1" height="10" fill="#C0C0C0"/>
<rect x="205" y="553" width="1" height="9" fill="#C0C0C0"/>
<rect x="213" y="553" width="1" height="8" fill="#C0C0C0"/>
<rect x="221" y="553" width="1" height="8" fill="#C0C0C0"/>
<rect x="229" y="553" width="1" height="7" fill="#C0C0C0"/>
<rect x="237" y="553" width="1" height="6" fill="#C0C0C0"/>
<rect x="245" y="553" width="1" height="6" fill="#C0C0C0"/>
<rect x="253" y="553" width="1" height="7" fill="#C0C0C0"/>
<rect x="261" y="553" width="1" height="6" fill="#C0C0C0"/>
<rect x="269" y="553" width="1" height="7" fill="#C0C0C0"/>
<rect x="277" y="553" width="1" height="7" fill="#C0C0C0"/>
<rect x="285" y="553" width="1" height="8" fill="#C0C0C0"/>
<rect x="293" y="553" width="1" height="7" fill="#C0C0C0"/>
<rect x="301" y="553" width="1" height="6" fill="#C0C0C0"/>
<rect x="309" y="553" width="1" height="4" fill="#C0C0C0"/>
<rect x="317" y="553" width="1" height="2" fill="#C0C0C0"/>
<rect x="325" y="553" width="1" height="1" fill="#C0C0C0"/>
<rect x="333" y="552" width="1" height="2" fill="#C0C0C0"/>
<rect x="341" y="551" width="1" height="3" fill="#C0C0C0"/>
<rect x="349" y="550" width="1" height="4" fill="#C0C0C0"/>
<rect x="357" y="550" width="1" height="4" fill="#C0C0C0"/>
<rect x="365" y="550" width="1" height="4" fill="#C0C0C0"/>
<rect x="373" y="551" width="1" height="3" fill="#C0C0C0"/>
<rect x="381" y="551" width="1" height="3" fill="#C0C0C0"/>
<rect x="389" y="550" width="1" height="4" fill="#C0C0C0"/>
<rect x="397" y="550" width="1" height="4" fill="#C0C0C0"/>
<rect x="405" y="549" width="1" height="5" fill="#C0C0C0"/>
<rect x="413" y="548" width="1" height="6" fill="#C0C0C0"/>
<rect x="421" y="543" width="1" height="11" fill="#C0C0C0"/>
<rect x="429" y="541" width="1" height="13" fill="#C0C0C0"/>
<rect x="437" y="539" width="1" height="15" fill="#C0C0C0"/>
<rect x="445" y="538" width="1" height="16" fill="#C0C0C0"/>
<rect x="453" y="537" width="1" height="17" fill="#C0C0C0"/>
<rect x="461" y="536" width="1" height="18" fill="#C0C0C0"/>
<rect x="469" y="538" width="1" height="16" fill="#C0C0C0"/>
<rect x="477" y="539" width="1" height="15" fill="#C0C0C0"/>
<rect x="485" y="540" width="1" height="14" fill="#C0C0C0"/>
<rect x="493" y="541" width="1" height="13" fill="#C0C0C0"/>
<rect x="501" y="540" width="1" height="14" fill="#C0C0C0"/>
<rect x="509" y="540" width="1" height="14" fill="#C0C0C0"/>
<rect x="517" y="541" width="1" height="13" fill="#C0C0C0"/>
<rect x="525" y="541" width="1" height="13" fill="#C0C0C0"/>
<rect x="533" y="540" width="1" height="14" fill="#C0C0C0"/>
<rect x="541" y="537" width="1" height="17" fill="#C0C0C0"/>
<rect x="549" y="535" width="1" height="19" fill="#C0C0C0"/>
<rect x="557" y="534" width="1" height="20" fill="#C0C0C0"/>
<rect x="565" y="534" width="1" height="20" fill="#C0C0C0"/>
<rect x="573" y="534" width="1" height="20" fill="#C0C0C0"/>
<rect x="581" y="535" width="1" height="19" fill="#C0C0C0"/>
<rect x="589" y="536" width="1" height="18" fill="#C0C0C0"/>
<rect x="597" y="536" width="1" height="18" fill="#C0C0C0"/>
<rect x="605" y="536" width="1" height="18" fill="#C0C0C0"/>
<rect x="613" y="542" width="1" height="12" fill="#C0C0C0"/>
<rect x="621" y="545" width="1" height="9" fill="#C0C0C0"/>
<rect x="629" y="548" width="1" height="6" fill="#C0C0C0"/>
<rect x="637" y="551" width="1" height="3" fill="#C0C0C0"/>
<rect x="645" y="551" width="1" height="3" fill="#C0C0C0"/>
<rect x="653" y="553" width="1" height="1" fill="#C0C0C0"/>
<rect x="661" y="553" width="1" height="1" fill="#C0C0C0"/>
<rect x="669" y="553" width="1" height="1" fill="#C0C0C0"/>
<rect x="677" y="553" width="1" height="1" fill="#C0C0C0"/>
<rect x="685" y="553" width="1" height="1" fill="#C0C0C0"/>
<rect x="693" y="553" width="1" height="1" fill="#C0C0C0"/>
<rect x="701" y="553" width="1" height="1" fill="#C0C0C0"/>
<rect x="709" y="553" width="1" height="1" fill="#C0C0C0"/>
<rect x="717" y="553" width="1" height="1" fill="#C0C0C0"/>
<rect x="725" y="553" width="1" height="1" fill="#C0C0C0"/>
<rect x="733" y="553" width="1" height="1" fill="#C0C0C0"/>
<rect x="741" y="553" width="1" height="1" fill="#C0C0C0"/>
<rect x="749" y="553" width="1" height="1" fill="#C0C0C0"/>
<rect x="757" y="553" width="1" height="1" fill="#C0C0C0"/>
<rect x="765" y="553" width="1" height="1" fill="#C0C0C0"/>
<rect x="773" y="553" width="1" height="1" fill="#C0C0C0"/>
<rect x="781" y="553" width="1" height="1" fill="#C0C0C0"/>
<rect x="789" y="553" width="1" height="1" fill="#C0C0C0"/>
<rect x="797" y="553" width="1" height="1" fill="#C0C0C0"/>
<rect x="805" y="553" width="1" height="1" fill="#C0C0C0"/>
<rect x="813" y="553" width="1" height="1" fill="#C0C0C0"/>
<rect x="821" y="553" width="1" height="1" fill="#C0C0C0"/>
<rect x="829" y="552" width="1" height="2" fill="#C0C0C0"/>
<rect x="837" y="551" width="1" height="3" fill="#C0C0C0"/>
<rect x="845" y="550" width="1" height="4" fill="#C0C0C0"/>
<rect x="853" y="550" width="1" height="4" fill="#C0C0C0"/>
<rect x="861" y="549" width="1" height="5" fill="#C0C0C0"/>
<rect x="869" y="549" width="1" height="5" fill="#C0C0C0"/>
<rect x="877" y="547" width="1" height="7" fill="#C0C0C0"/>
<rect x="885" y="549" width="1" height="5" fill="#C0C0C0"/>
<rect x="893" y="549" width="1" height="5" fill="#C0C0C0"/>
<rect x="901" y="550" width="1" height="4" fill="#C0C0C0"/>
<rect x="909" y="553" width="1" height="1" fill="#C0C0C0"/>
<rect x="917" y="553" width="1" height="2" fill="#C0C0C0"/>
<rect x="925" y="553" width="1" height="3" fill="#C0C0C0"/>
<rect x="933" y="553" width="1" height="5" fill="#C0C0C0"/>
<rect x="941" y="553" width="1" height="8" fill="#C0C0C0"/>
<rect x="949" y="553" width="1" height="13" fill="#C0C0C0"/>
<rect x="957" y="553" width="1" height="15" fill="#C0C0C0"/>
<rect x="965" y="553" width="1" height="17" fill="#C0C0C0"/>
<rect x="973" y="553" width="1" height="19" fill="#C0C0C0"/>
<rect x="981" y="553" width="1" height="19" fill="#C0C0C0"/>
<rect x="989" y="553" width="1" height="19" fill="#C0C0C0"/>
<rect x="997" y="553" width="1" height="19" fill="#C0C0C0"/>
<rect x="1005" y="553" width="1" height="19" fill="#C0C0C0"/>
<rect x="1013" y="553" width="1" height="18" fill="#C0C0C0"/>
<rect x="1021" y="553" width="1" height="17" fill="#C0C0C0"/>
<rect x="1029" y="553" width="1" height="15" fill="#C0C0C0"/>
<rect x="1037" y="553" width="1" height="14" fill="#C0C0C0"/>
<rect x="1045" y="553" width="1" height="13" fill="#C0C0C0"/>
<rect x="1053" y="553" width="1" height="11" fill="#C0C0C0"/>
<rect x="1061" y="553" width="1" height="11" fill="#C0C0C0"/>
<rect x="1069" y="553" width="1" height="9" fill="#C0C0C0"/>
<rect x="1077" y="553" width="1" height="8" fill="#C0C0C0"/>
<rect x="1085" y="553" width="1" height="7" fill="#C0C0C0"/>
<rect x="1093" y="553" width="1" height="5" fill="#C0C0C0"/>
<rect x="1101" y="553" width="1" height="2" fill="#C0C0C0"/>
<rect x="1109" y="553" width="1" height="1" fill="#C0C0C0"/>
<rect x="1117" y="551" width="1" height="3" fill="#C0C0C0"/>
<rect x="1125" y="550" width="1" height="4" fill="#C0C0C0"/>
<rect x="1133" y="548" width="1" height="6" fill="#C0C0C0"/>
<rect x="1141" y="547" width="1" height="7" fill="#C0C0C0"/>
<rect x="1149" y="547" width="1" height="7" fill="#C0C0C0"/>
<rect x="1157" y="546" width="1" height="8" fill="#C0C0C0"/>
<rect x="1165" y="545" width="1" height="9" fill="#C0C0C0"/>
<rect x="1173" y="546" width="1" height="8" fill="#C0C0C0"/>
<rect x="1181" y="546" width="1" height="8" fill="#C0C0C0"/>
<rect x="1189" y="546" width="1" height="8" fill="#C0C0C0"/>
<rect x="1197" y="545" width="1" height="9" fill="#C0C0C0"/>
<rect x="1205" y="545" width="1" height="9" fill="#C0C0C0"/>
<rect x="1213" y="545" width="1" height="9" fill="#C0C0C0"/>
<rect x="1221" y="545" width="1" height="9" fill="#C0C0C0"/>
<rect x="1229" y="545" width="1" height="9" fill="#C0C0C0"/>
<rect x="1237" y="545" width="1" height="9" fill="#C0C0C0"/>
<rect x="1245" y="545" width="1" height="9" fill="#C0C0C0"/>
<rect x="1253" y="545" width="1" height="9" fill="#C0C0C0"/>
<rect x="1261" y="545" width="1" height="9" fill="#C0C0C0"/>
<rect x="1269" y="545" width="1" height="9" fill="#C0C0C0"/>
<rect x="1277" y="545" width="1" height="9" fill="#C0C0C0"/>
<rect x="1285" y="545" width="1" height="9" fill="#C0C0C0"/>
<rect x="1293" y="542" width="1" height="12" fill="#C0C0C0"/>
<rect x="1301" y="540" width="1" height="14" fill="#C0C0C0"/>
<rect x="1309" y="538" width="1" height="16" fill="#C0C0C0"/>
<path d="M587 535h3v1h-3zM593 535h3v1h-3zM599 535h3v1h-3zM605 535h3v1h-3zM563 536h3v1h-3zM569 536h3v1h-3zM575 536h3v1h-3zM581 536h3v1h-3zM611 536h3v1h-3zM545 537h3v1h-3zM551 537h3v1h-3zM557 537h3v1h-3zM617 537h3v1h-3zM623 537h2v1h-2zM481 538h1v1h-1zM485 538h3v1h-3zM491 538h3v1h-3zM497 538h3v1h-3zM503 538h3v1h-3zM509 538h3v1h-3zM515 538h3v1h-3zM521 538h3v1h-3zM527 538h3v1h-3zM533 538h3v1h-3zM539 538h3v1h-3zM625 538h1v1h-1zM629 538h2v1h-2zM473 539h3v1h-3zM479 539h2v1h-2zM631 539h1v1h-1zM467 540h3v1h-3zM635 540h3v1h-3zM461 541h3v1h-3zM641 541h2v1h-2zM455 542h3v1h-3zM643 542h1v1h-1zM449 543h3v1h-3zM647 543h3v1h-3zM1307 543h3v1h-3zM443 544h3v1h-3zM653 544h2v1h-2zM1217 544h3v1h-3zM1223 544h3v1h-3zM1229 544h3v1h-3zM1289 544h3v1h-3zM1295 544h3v1h-3zM1301 544h3v1h-3zM439 545h1v1h-1zM655 545h1v1h-1zM1187 545h3v1h-3zM1193 545h3v1h-3zM1199 545h3v1h-3zM1205 545h3v1h-3zM1211 545h3v1h-3zM1235 545h3v1h-3zM1241 545h3v1h-3zM1247 545h3v1h-3zM1253 545h3v1h-3zM1259 545h3v1h-3zM1265 545h3v1h-3zM1271 545h3v1h-3zM1277 545h3v1h-3zM1283 545h3v1h-3zM433 546h1v1h-1zM437 546h2v1h-2zM659 546h3v1h-3zM1177 546h1v1h-1zM1181 546h3v1h-3zM425 547h3v1h-3zM431 547h2v1h-2zM665 547h2v1h-2zM1169 547h3v1h-3zM1175 547h2v1h-2zM409 548h1v1h-1zM413 548h3v1h-3zM419 548h3v1h-3zM667 548h1v1h-1zM671 548h2v1h-2zM1163 548h3v1h-3zM395 549h3v1h-3zM401 549h3v1h-3zM407 549h2v1h-2zM673 549h1v1h-1zM677 549h3v1h-3zM889 549h1v1h-1zM893 549h3v1h-3zM899 549h3v1h-3zM905 549h3v1h-3zM911 549h3v1h-3zM917 549h3v1h-3zM923 549h3v1h-3zM1159 549h1v1h-1zM385 550h1v1h-1zM389 550h3v1h-3zM683 550h3v1h-3zM875 550h3v1h-3zM881 550h3v1h-3zM887 550h2v1h-2zM929 550h2v1h-2zM1157 550h2v1h-2zM371 551h3v1h-3zM377 551h3v1h-3zM383 551h2v1h-2zM689 551h3v1h-3zM695 551h2v1h-2zM857 551h3v1h-3zM863 551h3v1h-3zM869 551h3v1h-3zM931 551h1v1h-1zM935 551h2v1h-2zM1151 551h3v1h-3zM361 552h1v1h-1zM365 552h3v1h-3zM697 552h1v1h-1zM701 552h3v1h-3zM851 552h3v1h-3zM937 552h1v1h-1zM941 552h2v1h-2zM1145 552h3v1h-3zM353 553h3v1h-3zM359 553h2v1h-2zM707 553h3v1h-3zM713 553h3v1h-3zM719 553h3v1h-3zM725 553h3v1h-3zM731 553h3v1h-3zM737 553h3v1h-3zM743 553h3v1h-3zM749 553h3v1h-3zM755 553h3v1h-3zM827 553h3v1h-3zM833 553h3v1h-3zM839 553h3v1h-3zM845 553h3v1h-3zM943 553h1v1h-1zM1139 553h3v1h-3zM347 554h3v1h-3zM761 554h3v1h-3zM767 554h3v1h-3zM773 554h3v1h-3zM779 554h3v1h-3zM785 554h3v1h-3zM791 554h3v1h-3zM797 554h3v1h-3zM803 554h3v1h-3zM809 554h3v1h-3zM815 554h3v1h-3zM821 554h3v1h-3zM947 554h3v1h-3zM1135 554h1v1h-1zM341 555h3v1h-3zM1129 555h1v1h-1zM1133 555h2v1h-2zM335 556h3v1h-3zM953 556h3v1h-3zM1127 556h2v1h-2zM329 557h3v1h-3zM1121 557h3v1h-3zM323 558h3v1h-3zM959 558h3v1h-3zM313 559h1v1h-1zM317 559h3v1h-3zM965 559h2v1h-2zM1115 559h3v1h-3zM275 560h3v1h-3zM281 560h3v1h-3zM287 560h3v1h-3zM293 560h3v1h-3zM299 560h3v1h-3zM305 560h3v1h-3zM311 560h2v1h-2zM967 560h1v1h-1zM1105 560h1v1h-1zM1109 560h3v1h-3zM251 561h3v1h-3zM257 561h3v1h-3zM263 561h3v1h-3zM269 561h3v1h-3zM971 561h1v1h-1zM1103 561h2v1h-2zM241 562h1v1h-1zM245 562h3v1h-3zM972 562h2v1h-2zM1097 562h3v1h-3zM233 563h3v1h-3zM239 563h2v1h-2zM977 563h2v1h-2zM227 564h3v1h-3zM979 564h1v1h-1zM1091 564h3v1h-3zM217 565h1v1h-1zM221 565h3v1h-3zM983 565h3v1h-3zM1085 565h3v1h-3zM209 566h3v1h-3zM215 566h2v1h-2zM989 566h2v1h-2zM1079 566h3v1h-3zM203 567h3v1h-3zM991 567h1v1h-1zM1067 567h3v1h-3zM1073 567h3v1h-3zM193 568h1v1h-1zM197 568h3v1h-3zM995 568h3v1h-3zM1057 568h1v1h-1zM1061 568h3v1h-3zM185 569h3v1h-3zM191 569h2v1h-2zM1001 569h3v1h-3zM1007 569h2v1h-2zM1049 569h3v1h-3zM1055 569h2v1h-2zM179 570h3v1h-3zM1009 570h1v1h-1zM1013 570h3v1h-3zM1043 570h3v1h-3zM169 571h1v1h-1zM173 571h3v1h-3zM1019 571h3v1h-3zM1025 571h3v1h-3zM1031 571h3v1h-3zM1037 571h3v1h-3zM155 572h3v1h-3zM161 572h3v1h-3zM167 572h2v1h-2zM131 573h3v1h-3zM137 573h3v1h-3zM143 573h3v1h-3zM149 573h3v1h-3zM107 574h3v1h-3zM113 574h3v1h-3zM119 574h3v1h-3zM125 574h3v1h-3zM89 575h3v1h-3zM95 575h3v1h-3zM101 575h3v1h-3zM83 576h3v1h-3zM73 577h1v1h-1zM77 577h3v1h-3zM65 578h3v1h-3zM71 578h2v1h-2zM59 579h3v1h-3zM53 580h3v1h-3zM47 581h3v1h-3zM41 582h3v1h-3zM35 583h3v1h-3zM31 584h1v1h-1zM25 585h1v1h-1zM29 585h2v1h-2zM5 586h3v1h-3zM11 586h3v1h-3zM17 586h3v1h-3zM23 586h2v1h-2z" fill="#FF0000"/>
</g>
<text x="9" y="545" font-size="12.4" fill="#000" textLength="157" lengthAdjust="spacingAndGlyphs">MACD(12,26,9) 43.14 27.86</text>
<g shape-rendering="crispEdges"><rect x="1657" y="553" width="2" height="1" fill="#000"/><rect x="1657" y="530" width="2" height="1" fill="#000"/><rect x="1657" y="588" width="2" height="1" fill="#000"/><rect x="1657" y="593" width="2" height="1" fill="#000"/><rect x="1657" y="630" width="2" height="1" fill="#000"/><rect x="1657" y="679" width="2" height="1" fill="#000"/>
<path d="M6 630.5H1656M6 679.5H1656" stroke="#C0C0C0" stroke-width="1" stroke-dasharray="3 3" fill="none"/>
</g>
<text x="1660" y="543" font-size="12.4" fill="#000" textLength="31.8" lengthAdjust="spacingAndGlyphs">61.45</text>
<text x="1660" y="557.5" font-size="12.4" fill="#000" textLength="24.6" lengthAdjust="spacingAndGlyphs">0.00</text>
<text x="1660" y="585.5" font-size="12.4" fill="#000" textLength="35.6" lengthAdjust="spacingAndGlyphs">-97.26</text>
<text x="1659.6" y="605" font-size="12.4" fill="#000" textLength="21" lengthAdjust="spacingAndGlyphs">100</text>
<text x="1659" y="635" font-size="12.4" fill="#000" textLength="14" lengthAdjust="spacingAndGlyphs">70</text>
<text x="1659" y="684" font-size="12.4" fill="#000" textLength="14" lengthAdjust="spacingAndGlyphs">30</text>
<text x="1660" y="713.7" font-size="12.4" fill="#000" textLength="7" lengthAdjust="spacingAndGlyphs">0</text>
<path d="M1301 622h4v1h-4zM1300 623h1v1h-1zM1305 623h5v1h-5zM1299 624h1v1h-1zM1298 625h1v1h-1zM1297 626h1v1h-1zM1296 627h1v1h-1zM421 628h1v1h-1zM1295 628h1v1h-1zM422 629h1v1h-1zM1294 629h1v1h-1zM420 629h1v2h-1zM423 630h2v1h-2zM1293 630h1v1h-1zM425 631h1v1h-1zM539 631h19v1h-19zM1291 631h2v1h-2zM419 631h1v2h-1zM426 632h1v1h-1zM535 632h4v1h-4zM558 632h2v1h-2zM1290 632h1v1h-1zM418 633h1v1h-1zM427 633h2v1h-2zM433 633h6v1h-6zM533 633h2v1h-2zM560 633h1v1h-1zM1289 633h1v1h-1zM429 634h4v1h-4zM439 634h4v1h-4zM457 634h4v1h-4zM532 634h1v1h-1zM561 634h2v1h-2zM1287 634h2v1h-2zM417 634h1v2h-1zM461 634h1v2h-1zM405 635h1v1h-1zM443 635h14v1h-14zM531 635h1v1h-1zM563 635h2v1h-2zM1286 635h1v1h-1zM406 636h1v1h-1zM416 636h1v1h-1zM530 636h1v1h-1zM565 636h2v1h-2zM1284 636h2v1h-2zM404 636h1v2h-1zM462 636h1v2h-1zM407 637h2v1h-2zM567 637h2v1h-2zM1157 637h2v1h-2zM1189 637h1v1h-1zM1282 637h2v1h-2zM415 637h1v2h-1zM529 637h1v2h-1zM409 638h1v1h-1zM569 638h3v1h-3zM1155 638h2v1h-2zM1159 638h4v1h-4zM1190 638h1v1h-1zM1253 638h2v1h-2zM1280 638h2v1h-2zM403 638h1v2h-1zM463 638h1v2h-1zM1188 638h1v2h-1zM410 639h1v1h-1zM501 639h2v1h-2zM528 639h1v1h-1zM572 639h2v1h-2zM869 639h1v1h-1zM1153 639h2v1h-2zM1163 639h3v1h-3zM1191 639h1v1h-1zM1252 639h1v1h-1zM1255 639h4v1h-4zM1278 639h2v1h-2zM414 639h1v2h-1zM316 640h2v1h-2zM411 640h2v1h-2zM500 640h1v1h-1zM503 640h4v1h-4zM527 640h1v1h-1zM574 640h2v1h-2zM868 640h1v1h-1zM870 640h2v1h-2zM1100 640h5v1h-5zM1152 640h1v1h-1zM1166 640h1v1h-1zM1187 640h1v1h-1zM1192 640h1v1h-1zM1251 640h1v1h-1zM1259 640h19v1h-19zM402 640h1v2h-1zM464 640h1v2h-1zM314 641h2v1h-2zM318 641h1v1h-1zM413 641h1v1h-1zM499 641h1v1h-1zM507 641h3v1h-3zM526 641h1v1h-1zM576 641h2v1h-2zM603 641h2v1h-2zM867 641h1v1h-1zM872 641h1v1h-1zM1097 641h3v1h-3zM1105 641h6v1h-6zM1150 641h2v1h-2zM1193 641h2v1h-2zM1250 641h1v1h-1zM605 641h1v2h-1zM1167 641h1v2h-1zM1186 641h1v2h-1zM312 642h2v1h-2zM319 642h2v1h-2zM401 642h1v1h-1zM497 642h2v1h-2zM510 642h2v1h-2zM524 642h2v1h-2zM578 642h2v1h-2zM599 642h4v1h-4zM865 642h2v1h-2zM873 642h2v1h-2zM1095 642h2v1h-2zM1111 642h4v1h-4zM1121 642h14v1h-14zM1147 642h3v1h-3zM1195 642h1v1h-1zM465 642h1v2h-1zM1249 642h1v2h-1zM310 643h2v1h-2zM321 643h1v1h-1zM496 643h1v1h-1zM512 643h2v1h-2zM521 643h3v1h-3zM580 643h3v1h-3zM595 643h4v1h-4zM828 643h3v1h-3zM844 643h2v1h-2zM864 643h1v1h-1zM875 643h2v1h-2zM1093 643h2v1h-2zM1115 643h6v1h-6zM1135 643h4v1h-4zM1143 643h4v1h-4zM1168 643h1v1h-1zM1185 643h1v1h-1zM1196 643h1v1h-1zM400 643h1v2h-1zM606 643h1v2h-1zM309 644h1v1h-1zM322 644h1v1h-1zM495 644h1v1h-1zM514 644h2v1h-2zM519 644h2v1h-2zM583 644h4v1h-4zM591 644h4v1h-4zM826 644h2v1h-2zM831 644h2v1h-2zM841 644h3v1h-3zM846 644h2v1h-2zM863 644h1v1h-1zM877 644h1v1h-1zM1139 644h4v1h-4zM1169 644h1v1h-1zM1197 644h2v1h-2zM1248 644h1v1h-1zM466 644h1v2h-1zM1092 644h1v2h-1zM1184 644h1v2h-1zM323 645h2v1h-2zM337 645h6v1h-6zM494 645h1v1h-1zM516 645h3v1h-3zM587 645h4v1h-4zM693 645h1v1h-1zM824 645h2v1h-2zM833 645h3v1h-3zM839 645h2v1h-2zM848 645h2v1h-2zM862 645h1v1h-1zM878 645h1v1h-1zM1170 645h1v1h-1zM1199 645h4v1h-4zM1247 645h1v1h-1zM308 645h1v2h-1zM399 645h1v2h-1zM607 645h1v3h-1zM325 646h12v1h-12zM343 646h2v1h-2zM477 646h17v1h-17zM692 646h1v1h-1zM694 646h1v1h-1zM822 646h2v1h-2zM836 646h3v1h-3zM850 646h2v1h-2zM857 646h5v1h-5zM879 646h2v1h-2zM1183 646h1v1h-1zM1203 646h11v1h-11zM1236 646h5v1h-5zM1246 646h1v1h-1zM467 646h1v2h-1zM1091 646h1v2h-1zM1171 646h1v2h-1zM345 647h3v1h-3zM475 647h2v1h-2zM691 647h1v1h-1zM695 647h2v1h-2zM805 647h1v1h-1zM820 647h2v1h-2zM852 647h5v1h-5zM881 647h1v1h-1zM1214 647h2v1h-2zM1233 647h3v1h-3zM1241 647h5v1h-5zM307 647h1v2h-1zM398 647h1v2h-1zM1182 647h1v2h-1zM348 648h3v1h-3zM473 648h2v1h-2zM690 648h1v1h-1zM697 648h1v1h-1zM806 648h2v1h-2zM818 648h2v1h-2zM882 648h1v1h-1zM1090 648h1v1h-1zM1172 648h1v1h-1zM1216 648h2v1h-2zM1231 648h2v1h-2zM468 648h1v2h-1zM608 648h1v2h-1zM804 648h1v2h-1zM351 649h4v1h-4zM393 649h5v1h-5zM472 649h1v1h-1zM698 649h1v1h-1zM808 649h2v1h-2zM816 649h2v1h-2zM883 649h2v1h-2zM1173 649h9v1h-9zM1218 649h2v1h-2zM1225 649h6v1h-6zM306 649h1v2h-1zM689 649h1v2h-1zM1089 649h1v2h-1zM355 650h4v1h-4zM387 650h6v1h-6zM470 650h2v1h-2zM699 650h2v1h-2zM803 650h1v1h-1zM810 650h2v1h-2zM814 650h2v1h-2zM885 650h9v1h-9zM1220 650h5v1h-5zM469 650h1v2h-1zM609 650h1v3h-1zM305 651h1v1h-1zM359 651h2v1h-2zM383 651h4v1h-4zM688 651h1v1h-1zM701 651h2v1h-2zM802 651h1v1h-1zM812 651h2v1h-2zM1088 651h1v1h-1zM894 651h1v2h-1zM361 652h3v1h-3zM379 652h4v1h-4zM687 652h1v1h-1zM703 652h2v1h-2zM757 652h2v1h-2zM1077 652h1v1h-1zM304 652h1v2h-1zM801 652h1v2h-1zM1087 652h1v2h-1zM364 653h5v1h-5zM375 653h4v1h-4zM677 653h4v1h-4zM686 653h1v1h-1zM705 653h3v1h-3zM723 653h4v1h-4zM759 653h4v1h-4zM895 653h1v1h-1zM1075 653h2v1h-2zM1078 653h2v1h-2zM610 653h1v2h-1zM756 653h1v2h-1zM369 654h6v1h-6zM676 654h1v1h-1zM681 654h5v1h-5zM708 654h5v1h-5zM719 654h4v1h-4zM727 654h2v1h-2zM763 654h6v1h-6zM800 654h1v1h-1zM896 654h1v1h-1zM1074 654h1v1h-1zM1080 654h2v1h-2zM303 654h1v2h-1zM1086 654h1v2h-1zM165 655h2v1h-2zM675 655h1v1h-1zM713 655h6v1h-6zM729 655h3v1h-3zM769 655h5v1h-5zM799 655h1v1h-1zM1073 655h1v1h-1zM1082 655h2v1h-2zM755 655h1v2h-1zM897 655h1v2h-1zM611 655h1v3h-1zM164 656h1v1h-1zM167 656h2v1h-2zM293 656h2v1h-2zM674 656h1v1h-1zM732 656h2v1h-2zM774 656h1v1h-1zM1071 656h2v1h-2zM1084 656h2v1h-2zM302 656h1v2h-1zM798 656h1v2h-1zM163 657h1v1h-1zM169 657h3v1h-3zM295 657h4v1h-4zM734 657h1v1h-1zM754 657h1v1h-1zM775 657h2v1h-2zM898 657h1v1h-1zM1045 657h1v1h-1zM1070 657h1v1h-1zM292 657h1v2h-1zM673 657h1v2h-1zM162 658h1v1h-1zM172 658h5v1h-5zM185 658h5v1h-5zM205 658h4v1h-4zM236 658h2v1h-2zM299 658h3v1h-3zM735 658h1v1h-1zM777 658h1v1h-1zM796 658h2v1h-2zM899 658h1v1h-1zM1044 658h1v1h-1zM1046 658h2v1h-2zM1069 658h1v1h-1zM612 658h1v2h-1zM753 658h1v2h-1zM161 659h1v1h-1zM177 659h8v1h-8zM190 659h1v1h-1zM204 659h1v1h-1zM209 659h6v1h-6zM234 659h2v1h-2zM238 659h1v1h-1zM260 659h2v1h-2zM659 659h4v1h-4zM672 659h1v1h-1zM736 659h1v1h-1zM778 659h1v1h-1zM793 659h3v1h-3zM1043 659h1v1h-1zM1048 659h2v1h-2zM1068 659h1v1h-1zM291 659h1v2h-1zM900 659h1v2h-1zM160 660h1v1h-1zM191 660h1v1h-1zM203 660h1v1h-1zM215 660h2v1h-2zM232 660h2v1h-2zM239 660h2v1h-2zM258 660h2v1h-2zM262 660h1v1h-1zM643 660h6v1h-6zM655 660h4v1h-4zM663 660h2v1h-2zM671 660h1v1h-1zM737 660h1v1h-1zM752 660h1v1h-1zM779 660h2v1h-2zM791 660h2v1h-2zM905 660h5v1h-5zM1042 660h1v1h-1zM1050 660h2v1h-2zM1067 660h1v1h-1zM613 660h1v2h-1zM29 661h2v1h-2zM85 661h1v1h-1zM159 661h1v1h-1zM192 661h1v1h-1zM201 661h2v1h-2zM217 661h3v1h-3zM230 661h2v1h-2zM241 661h1v1h-1zM256 661h2v1h-2zM263 661h2v1h-2zM614 661h9v1h-9zM639 661h4v1h-4zM649 661h6v1h-6zM665 661h3v1h-3zM670 661h1v1h-1zM738 661h1v1h-1zM781 661h10v1h-10zM901 661h4v1h-4zM1041 661h1v1h-1zM1052 661h2v1h-2zM1066 661h1v1h-1zM290 661h1v2h-1zM751 661h1v2h-1zM910 661h1v2h-1zM27 662h2v1h-2zM31 662h2v1h-2zM43 662h3v1h-3zM86 662h2v1h-2zM158 662h1v1h-1zM193 662h2v1h-2zM200 662h1v1h-1zM220 662h10v1h-10zM242 662h1v1h-1zM254 662h2v1h-2zM265 662h1v1h-1zM623 662h2v1h-2zM635 662h4v1h-4zM668 662h2v1h-2zM739 662h1v1h-1zM1021 662h1v1h-1zM1040 662h1v1h-1zM1054 662h2v1h-2zM1065 662h1v1h-1zM84 662h1v2h-1zM25 663h2v1h-2zM33 663h3v1h-3zM39 663h4v1h-4zM46 663h1v1h-1zM88 663h1v1h-1zM157 663h1v1h-1zM195 663h1v1h-1zM199 663h1v1h-1zM243 663h2v1h-2zM249 663h5v1h-5zM266 663h1v1h-1zM289 663h1v1h-1zM625 663h3v1h-3zM631 663h4v1h-4zM740 663h1v1h-1zM1019 663h2v1h-2zM1022 663h2v1h-2zM1039 663h1v1h-1zM1056 663h1v1h-1zM1064 663h1v1h-1zM750 663h1v2h-1zM911 663h1v2h-1zM24 664h1v1h-1zM36 664h3v1h-3zM47 664h1v1h-1zM89 664h2v1h-2zM156 664h1v1h-1zM196 664h1v1h-1zM198 664h1v1h-1zM245 664h4v1h-4zM267 664h2v1h-2zM273 664h5v1h-5zM628 664h3v1h-3zM741 664h4v1h-4zM1017 664h2v1h-2zM1024 664h2v1h-2zM1038 664h1v1h-1zM1057 664h2v1h-2zM1063 664h1v1h-1zM83 664h1v2h-1zM288 664h1v2h-1zM22 665h2v1h-2zM48 665h1v1h-1zM91 665h2v1h-2zM97 665h8v1h-8zM155 665h1v1h-1zM197 665h1v1h-1zM269 665h4v1h-4zM278 665h1v1h-1zM745 665h5v1h-5zM1016 665h1v1h-1zM1026 665h2v1h-2zM1033 665h5v1h-5zM1059 665h2v1h-2zM1062 665h1v1h-1zM912 665h1v2h-1zM21 666h1v1h-1zM49 666h1v1h-1zM82 666h1v1h-1zM93 666h4v1h-4zM105 666h5v1h-5zM154 666h1v1h-1zM279 666h2v1h-2zM1014 666h2v1h-2zM1028 666h5v1h-5zM1061 666h1v1h-1zM287 666h1v2h-1zM20 667h1v1h-1zM50 667h1v1h-1zM110 667h2v1h-2zM153 667h1v1h-1zM281 667h1v1h-1zM913 667h1v1h-1zM1013 667h1v1h-1zM81 667h1v2h-1zM19 668h1v1h-1zM51 668h1v1h-1zM112 668h1v1h-1zM152 668h1v1h-1zM282 668h1v1h-1zM1012 668h1v1h-1zM286 668h1v2h-1zM914 668h1v2h-1zM18 669h1v1h-1zM52 669h1v1h-1zM80 669h1v1h-1zM113 669h2v1h-2zM151 669h1v1h-1zM283 669h2v1h-2zM1011 669h1v1h-1zM17 670h1v1h-1zM53 670h2v1h-2zM115 670h2v1h-2zM140 670h5v1h-5zM150 670h1v1h-1zM285 670h1v1h-1zM924 670h2v1h-2zM1010 670h1v1h-1zM79 670h1v2h-1zM915 670h1v2h-1zM16 671h1v1h-1zM55 671h4v1h-4zM117 671h2v1h-2zM137 671h3v1h-3zM145 671h5v1h-5zM922 671h2v1h-2zM926 671h1v1h-1zM1009 671h1v1h-1zM5 672h2v1h-2zM15 672h1v1h-1zM59 672h4v1h-4zM119 672h4v1h-4zM135 672h2v1h-2zM920 672h2v1h-2zM927 672h1v1h-1zM1008 672h1v1h-1zM78 672h1v2h-1zM916 672h1v2h-1zM7 673h4v1h-4zM14 673h1v1h-1zM63 673h2v1h-2zM123 673h12v1h-12zM918 673h2v1h-2zM928 673h1v1h-1zM981 673h10v1h-10zM1007 673h1v1h-1zM11 674h3v1h-3zM65 674h3v1h-3zM73 674h5v1h-5zM917 674h1v1h-1zM929 674h2v1h-2zM980 674h1v1h-1zM991 674h4v1h-4zM1006 674h1v1h-1zM68 675h5v1h-5zM931 675h1v1h-1zM995 675h11v1h-11zM979 675h1v2h-1zM932 676h1v1h-1zM933 677h1v1h-1zM978 677h1v1h-1zM934 678h2v1h-2zM977 678h1v1h-1zM936 679h2v1h-2zM976 679h1v1h-1zM938 680h2v1h-2zM957 680h4v1h-4zM975 680h1v2h-1zM940 681h2v1h-2zM956 681h1v1h-1zM961 681h6v1h-6zM942 682h1v1h-1zM955 682h1v1h-1zM967 682h4v1h-4zM974 682h1v1h-1zM943 683h2v1h-2zM953 683h2v1h-2zM971 683h3v1h-3zM945 684h1v1h-1zM952 684h1v1h-1zM946 685h1v1h-1zM951 685h1v1h-1zM947 686h2v1h-2zM950 686h1v1h-1zM949 687h1v1h-1z" fill="#1E90FF" shape-rendering="crispEdges"/>
<text x="9" y="607" font-size="12.4" fill="#000" textLength="92" lengthAdjust="spacingAndGlyphs">RSI(14) 75.6386</text>
<g shape-rendering="crispEdges">
<rect x="5" y="718" width="1" height="3" fill="#000"/>
<rect x="101" y="718" width="1" height="3" fill="#000"/>
<rect x="197" y="718" width="1" height="3" fill="#000"/>
<rect x="293" y="718" width="1" height="3" fill="#000"/>
<rect x="389" y="718" width="1" height="3" fill="#000"/>
<rect x="485" y="718" width="1" height="3" fill="#000"/>
<rect x="581" y="718" width="1" height="3" fill="#000"/>
<rect x="677" y="718" width="1" height="3" fill="#000"/>
<rect x="773" y="718" width="1" height="3" fill="#000"/>
<rect x="869" y="718" width="1" height="3" fill="#000"/>
<rect x="965" y="718" width="1" height="3" fill="#000"/>
<rect x="1061" y="718" width="1" height="3" fill="#000"/>
<rect x="1157" y="718" width="1" height="3" fill="#000"/>
<rect x="1253" y="718" width="1" height="3" fill="#000"/>
</g>
<text x="3.9" y="733" font-size="12.4" fill="#000" class="dt">14 May 2019</text>
<text x="99.9" y="733" font-size="12.4" fill="#000" class="dt">22 May 01:30</text>
<text x="195.9" y="733" font-size="12.4" fill="#000" class="dt">30 May 01:30</text>
<text x="291.9" y="733" font-size="12.4" fill="#000" class="dt">10 Jun 01:30</text>
<text x="387.9" y="733" font-size="12.4" fill="#000" class="dt">18 Jun 01:30</text>
<text x="483.9" y="733" font-size="12.4" fill="#000" class="dt">26 Jun 01:30</text>
<text x="579.9" y="733" font-size="12.4" fill="#000" class="dt">4 Jul 01:30</text>
<text x="675.9" y="733" font-size="12.4" fill="#000" class="dt">12 Jul 01:30</text>
<text x="771.9" y="733" font-size="12.4" fill="#000" class="dt">22 Jul 01:30</text>
<text x="867.9" y="733" font-size="12.4" fill="#000" class="dt">30 Jul 01:30</text>
<text x="963.9" y="733" font-size="12.4" fill="#000" class="dt">7 Aug 01:30</text>
<text x="1059.9" y="733" font-size="12.4" fill="#000" class="dt">15 Aug 01:30</text>
<text x="1155.9" y="733" font-size="12.4" fill="#000" class="dt">23 Aug 01:30</text>
<text x="1251.9" y="733" font-size="12.4" fill="#000" class="dt">2 Sep 01:30</text>
<rect x="0" y="740" width="1709" height="2" fill="#F0F0F0"/>
</svg>
</body></html>
